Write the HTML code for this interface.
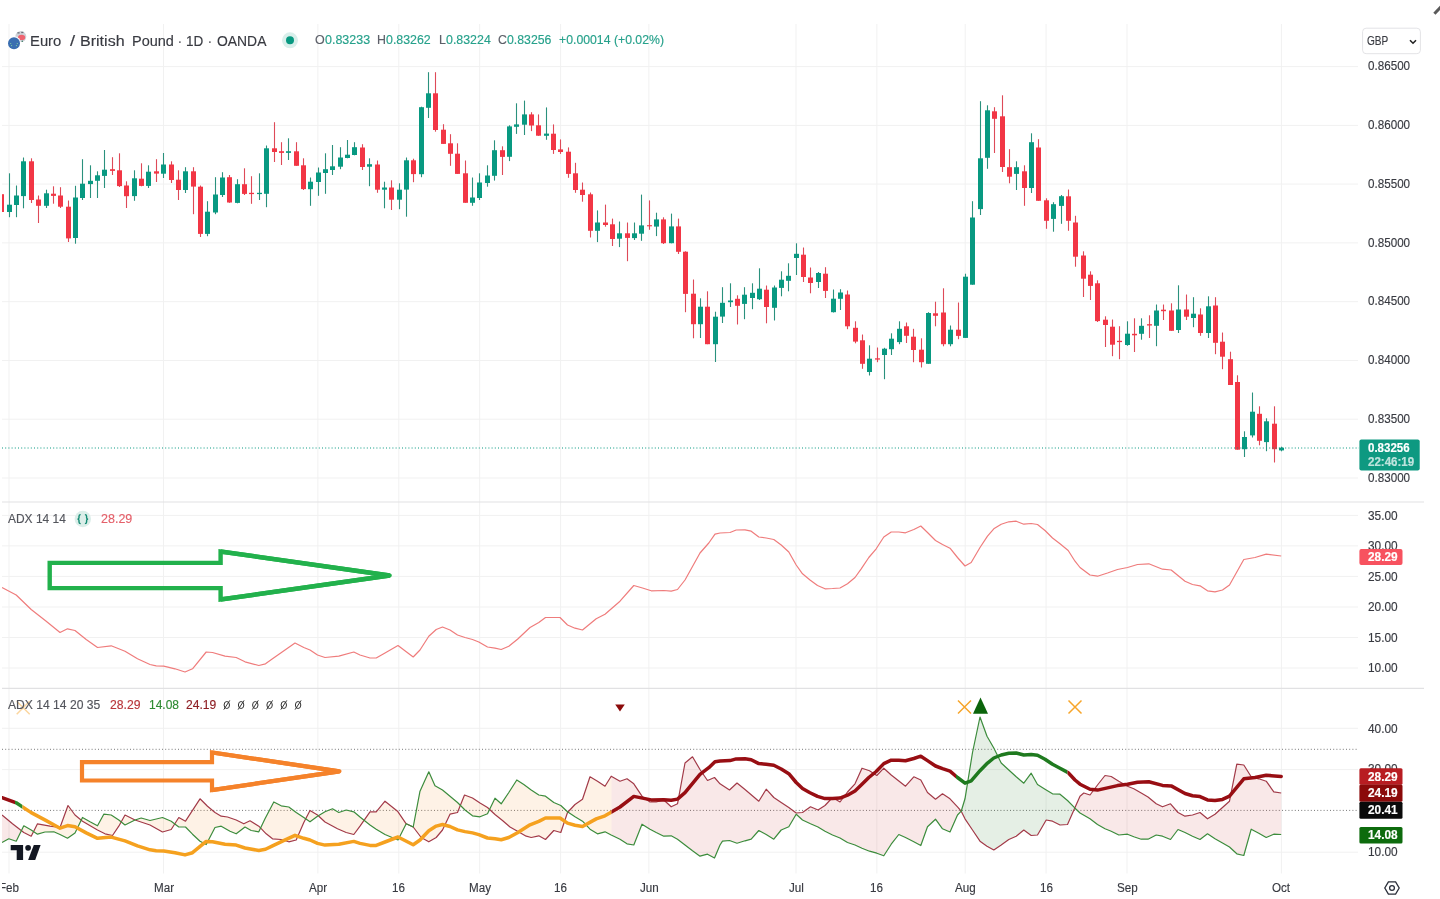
<!DOCTYPE html>
<html><head><meta charset="utf-8"><title>EURGBP chart</title>
<style>
html,body{margin:0;padding:0;background:#fff;}
body{width:1440px;height:899px;overflow:hidden;position:relative;font-family:"Liberation Sans",sans-serif;}
#c{position:absolute;left:0;top:0;width:1440px;height:899px;overflow:hidden;filter:blur(0.4px);}
svg{position:absolute;left:0;top:0;}
.t{position:absolute;white-space:nowrap;transform-origin:0 50%;-webkit-text-stroke:0.15px currentColor;}
</style></head><body><div id="c">
<div id="under">
<div class="t" style="left:1367.50px;top:539.04px;font-size:12px;line-height:14.40px;color:#383a41;transform:scaleX(0.9887);">30.00</div>
<div class="t" style="left:1367.50px;top:762.44px;font-size:12px;line-height:14.40px;color:#383a41;transform:scaleX(0.9887);">30.00</div>
</div>
<svg width="1440" height="899" viewBox="0 0 1440 899">
<line x1="9.0" y1="24" x2="9.0" y2="873.5" stroke="#f1f1f1" stroke-width="1"/>
<line x1="163.5" y1="24" x2="163.5" y2="873.5" stroke="#f1f1f1" stroke-width="1"/>
<line x1="317.9" y1="24" x2="317.9" y2="873.5" stroke="#f1f1f1" stroke-width="1"/>
<line x1="398.8" y1="24" x2="398.8" y2="873.5" stroke="#f1f1f1" stroke-width="1"/>
<line x1="479.7" y1="24" x2="479.7" y2="873.5" stroke="#f1f1f1" stroke-width="1"/>
<line x1="560.6" y1="24" x2="560.6" y2="873.5" stroke="#f1f1f1" stroke-width="1"/>
<line x1="648.9" y1="24" x2="648.9" y2="873.5" stroke="#f1f1f1" stroke-width="1"/>
<line x1="796.0" y1="24" x2="796.0" y2="873.5" stroke="#f1f1f1" stroke-width="1"/>
<line x1="876.9" y1="24" x2="876.9" y2="873.5" stroke="#f1f1f1" stroke-width="1"/>
<line x1="965.2" y1="24" x2="965.2" y2="873.5" stroke="#f1f1f1" stroke-width="1"/>
<line x1="1046.1" y1="24" x2="1046.1" y2="873.5" stroke="#f1f1f1" stroke-width="1"/>
<line x1="1127.0" y1="24" x2="1127.0" y2="873.5" stroke="#f1f1f1" stroke-width="1"/>
<line x1="1281.4" y1="24" x2="1281.4" y2="873.5" stroke="#f1f1f1" stroke-width="1"/>
<line x1="2" y1="478.0" x2="1358" y2="478.0" stroke="#f1f1f1" stroke-width="1"/>
<line x1="2" y1="419.2" x2="1358" y2="419.2" stroke="#f1f1f1" stroke-width="1"/>
<line x1="2" y1="360.5" x2="1358" y2="360.5" stroke="#f1f1f1" stroke-width="1"/>
<line x1="2" y1="301.7" x2="1358" y2="301.7" stroke="#f1f1f1" stroke-width="1"/>
<line x1="2" y1="242.9" x2="1358" y2="242.9" stroke="#f1f1f1" stroke-width="1"/>
<line x1="2" y1="184.1" x2="1358" y2="184.1" stroke="#f1f1f1" stroke-width="1"/>
<line x1="2" y1="125.4" x2="1358" y2="125.4" stroke="#f1f1f1" stroke-width="1"/>
<line x1="2" y1="66.6" x2="1358" y2="66.6" stroke="#f1f1f1" stroke-width="1"/>
<line x1="2" y1="668.0" x2="1358" y2="668.0" stroke="#f1f1f1" stroke-width="1"/>
<line x1="2" y1="637.5" x2="1358" y2="637.5" stroke="#f1f1f1" stroke-width="1"/>
<line x1="2" y1="607.0" x2="1358" y2="607.0" stroke="#f1f1f1" stroke-width="1"/>
<line x1="2" y1="576.4" x2="1358" y2="576.4" stroke="#f1f1f1" stroke-width="1"/>
<line x1="2" y1="545.9" x2="1358" y2="545.9" stroke="#f1f1f1" stroke-width="1"/>
<line x1="2" y1="515.4" x2="1358" y2="515.4" stroke="#f1f1f1" stroke-width="1"/>
<line x1="2" y1="852.2" x2="1358" y2="852.2" stroke="#f1f1f1" stroke-width="1"/>
<line x1="2" y1="769.6" x2="1358" y2="769.6" stroke="#f1f1f1" stroke-width="1"/>
<line x1="2" y1="728.3" x2="1358" y2="728.3" stroke="#f1f1f1" stroke-width="1"/>
<line x1="2" y1="502" x2="1424" y2="502" stroke="#e1e1e3" stroke-width="1.2"/>
<line x1="2" y1="688.3" x2="1424" y2="688.3" stroke="#e1e1e3" stroke-width="1.2"/>
<line x1="1.50" y1="194.2" x2="1.50" y2="212.0" stroke="#de4a58" stroke-width="1.1"/>
<rect x="-1.00" y="194.2" width="5" height="17.8" fill="#f23645"/>
<line x1="9.50" y1="173.3" x2="9.50" y2="217.2" stroke="#2a917d" stroke-width="1.1"/>
<rect x="7.00" y="204.7" width="5" height="7.3" fill="#089981"/>
<line x1="16.50" y1="185.5" x2="16.50" y2="217.2" stroke="#2a917d" stroke-width="1.1"/>
<rect x="14.00" y="195.5" width="5" height="9.5" fill="#089981"/>
<line x1="23.50" y1="157.5" x2="23.50" y2="208.3" stroke="#2a917d" stroke-width="1.1"/>
<rect x="21.00" y="161.3" width="5" height="34.8" fill="#089981"/>
<line x1="31.50" y1="158.3" x2="31.50" y2="203.0" stroke="#de4a58" stroke-width="1.1"/>
<rect x="29.00" y="161.3" width="5" height="38.7" fill="#f23645"/>
<line x1="38.50" y1="195.5" x2="38.50" y2="223.0" stroke="#de4a58" stroke-width="1.1"/>
<rect x="36.00" y="199.5" width="5" height="6.3" fill="#f23645"/>
<line x1="46.50" y1="189.7" x2="46.50" y2="208.0" stroke="#2a917d" stroke-width="1.1"/>
<rect x="44.00" y="193.3" width="5" height="12.5" fill="#089981"/>
<line x1="53.50" y1="186.3" x2="53.50" y2="203.7" stroke="#de4a58" stroke-width="1.1"/>
<rect x="51.00" y="193.7" width="5" height="2.2" fill="#f23645"/>
<line x1="60.50" y1="187.2" x2="60.50" y2="208.0" stroke="#de4a58" stroke-width="1.1"/>
<rect x="58.00" y="195.5" width="5" height="11.2" fill="#f23645"/>
<line x1="68.50" y1="200.5" x2="68.50" y2="242.0" stroke="#de4a58" stroke-width="1.1"/>
<rect x="66.00" y="206.7" width="5" height="31.7" fill="#f23645"/>
<line x1="75.50" y1="185.8" x2="75.50" y2="243.7" stroke="#2a917d" stroke-width="1.1"/>
<rect x="73.00" y="197.5" width="5" height="40.5" fill="#089981"/>
<line x1="82.50" y1="159.2" x2="82.50" y2="200.0" stroke="#2a917d" stroke-width="1.1"/>
<rect x="80.00" y="183.7" width="5" height="14.3" fill="#089981"/>
<line x1="90.50" y1="165.3" x2="90.50" y2="198.0" stroke="#2a917d" stroke-width="1.1"/>
<rect x="88.00" y="180.8" width="5" height="3.3" fill="#089981"/>
<line x1="97.50" y1="171.3" x2="97.50" y2="198.0" stroke="#2a917d" stroke-width="1.1"/>
<rect x="95.00" y="175.3" width="5" height="5.5" fill="#089981"/>
<line x1="104.50" y1="150.0" x2="104.50" y2="188.0" stroke="#2a917d" stroke-width="1.1"/>
<rect x="102.00" y="169.7" width="5" height="6.2" fill="#089981"/>
<line x1="112.50" y1="157.2" x2="112.50" y2="175.0" stroke="#de4a58" stroke-width="1.1"/>
<rect x="110.00" y="169.2" width="5" height="1.7" fill="#f23645"/>
<line x1="119.50" y1="153.3" x2="119.50" y2="187.0" stroke="#de4a58" stroke-width="1.1"/>
<rect x="117.00" y="170.3" width="5" height="15.8" fill="#f23645"/>
<line x1="126.50" y1="181.3" x2="126.50" y2="208.0" stroke="#de4a58" stroke-width="1.1"/>
<rect x="124.00" y="185.5" width="5" height="10.7" fill="#f23645"/>
<line x1="134.50" y1="170.3" x2="134.50" y2="200.8" stroke="#2a917d" stroke-width="1.1"/>
<rect x="132.00" y="178.3" width="5" height="17.8" fill="#089981"/>
<line x1="141.50" y1="163.3" x2="141.50" y2="186.3" stroke="#de4a58" stroke-width="1.1"/>
<rect x="139.00" y="178.7" width="5" height="7.2" fill="#f23645"/>
<line x1="148.50" y1="165.3" x2="148.50" y2="188.0" stroke="#2a917d" stroke-width="1.1"/>
<rect x="146.00" y="171.7" width="5" height="14.2" fill="#089981"/>
<line x1="156.50" y1="159.2" x2="156.50" y2="182.0" stroke="#de4a58" stroke-width="1.1"/>
<rect x="154.00" y="171.3" width="5" height="2.3" fill="#f23645"/>
<line x1="163.50" y1="153.0" x2="163.50" y2="178.0" stroke="#2a917d" stroke-width="1.1"/>
<rect x="161.00" y="164.5" width="5" height="9.2" fill="#089981"/>
<line x1="171.50" y1="161.3" x2="171.50" y2="183.0" stroke="#de4a58" stroke-width="1.1"/>
<rect x="169.00" y="164.5" width="5" height="15.5" fill="#f23645"/>
<line x1="178.50" y1="170.3" x2="178.50" y2="200.0" stroke="#de4a58" stroke-width="1.1"/>
<rect x="176.00" y="179.7" width="5" height="10.3" fill="#f23645"/>
<line x1="185.50" y1="167.2" x2="185.50" y2="193.0" stroke="#2a917d" stroke-width="1.1"/>
<rect x="183.00" y="171.3" width="5" height="18.7" fill="#089981"/>
<line x1="193.50" y1="167.2" x2="193.50" y2="214.2" stroke="#de4a58" stroke-width="1.1"/>
<rect x="191.00" y="171.3" width="5" height="15.3" fill="#f23645"/>
<line x1="200.50" y1="185.5" x2="200.50" y2="237.0" stroke="#de4a58" stroke-width="1.1"/>
<rect x="198.00" y="186.7" width="5" height="47.2" fill="#f23645"/>
<line x1="207.50" y1="201.2" x2="207.50" y2="236.2" stroke="#2a917d" stroke-width="1.1"/>
<rect x="205.00" y="211.7" width="5" height="22.2" fill="#089981"/>
<line x1="215.50" y1="177.2" x2="215.50" y2="214.2" stroke="#2a917d" stroke-width="1.1"/>
<rect x="213.00" y="194.5" width="5" height="18.0" fill="#089981"/>
<line x1="222.50" y1="172.2" x2="222.50" y2="197.0" stroke="#2a917d" stroke-width="1.1"/>
<rect x="220.00" y="177.5" width="5" height="17.5" fill="#089981"/>
<line x1="229.50" y1="175.0" x2="229.50" y2="202.8" stroke="#de4a58" stroke-width="1.1"/>
<rect x="227.00" y="177.2" width="5" height="25.3" fill="#f23645"/>
<line x1="237.50" y1="179.2" x2="237.50" y2="203.3" stroke="#2a917d" stroke-width="1.1"/>
<rect x="235.00" y="184.2" width="5" height="18.7" fill="#089981"/>
<line x1="244.50" y1="168.3" x2="244.50" y2="195.0" stroke="#de4a58" stroke-width="1.1"/>
<rect x="242.00" y="184.2" width="5" height="9.7" fill="#f23645"/>
<line x1="251.50" y1="176.2" x2="251.50" y2="203.8" stroke="#de4a58" stroke-width="1.1"/>
<rect x="249.00" y="192.8" width="5" height="1.3" fill="#f23645"/>
<line x1="259.50" y1="173.3" x2="259.50" y2="200.0" stroke="#2a917d" stroke-width="1.1"/>
<rect x="257.00" y="192.8" width="5" height="1.3" fill="#089981"/>
<line x1="266.50" y1="145.5" x2="266.50" y2="207.2" stroke="#2a917d" stroke-width="1.1"/>
<rect x="264.00" y="148.3" width="5" height="45.5" fill="#089981"/>
<line x1="274.50" y1="122.2" x2="274.50" y2="162.0" stroke="#de4a58" stroke-width="1.1"/>
<rect x="272.00" y="148.3" width="5" height="3.7" fill="#f23645"/>
<line x1="281.50" y1="142.2" x2="281.50" y2="165.0" stroke="#de4a58" stroke-width="1.1"/>
<rect x="279.00" y="151.2" width="5" height="1.7" fill="#f23645"/>
<line x1="288.50" y1="138.3" x2="288.50" y2="160.0" stroke="#2a917d" stroke-width="1.1"/>
<rect x="286.00" y="151.2" width="5" height="1.7" fill="#089981"/>
<line x1="296.50" y1="142.2" x2="296.50" y2="165.8" stroke="#de4a58" stroke-width="1.1"/>
<rect x="294.00" y="151.3" width="5" height="14.5" fill="#f23645"/>
<line x1="303.50" y1="158.3" x2="303.50" y2="190.0" stroke="#de4a58" stroke-width="1.1"/>
<rect x="301.00" y="165.3" width="5" height="23.8" fill="#f23645"/>
<line x1="310.50" y1="177.5" x2="310.50" y2="205.8" stroke="#2a917d" stroke-width="1.1"/>
<rect x="308.00" y="181.7" width="5" height="7.5" fill="#089981"/>
<line x1="318.50" y1="167.5" x2="318.50" y2="195.8" stroke="#2a917d" stroke-width="1.1"/>
<rect x="316.00" y="172.5" width="5" height="9.5" fill="#089981"/>
<line x1="325.50" y1="153.3" x2="325.50" y2="193.8" stroke="#2a917d" stroke-width="1.1"/>
<rect x="323.00" y="169.2" width="5" height="3.8" fill="#089981"/>
<line x1="332.50" y1="145.0" x2="332.50" y2="175.0" stroke="#2a917d" stroke-width="1.1"/>
<rect x="330.00" y="166.3" width="5" height="3.7" fill="#089981"/>
<line x1="340.50" y1="147.2" x2="340.50" y2="169.2" stroke="#2a917d" stroke-width="1.1"/>
<rect x="338.00" y="157.5" width="5" height="9.2" fill="#089981"/>
<line x1="347.50" y1="140.0" x2="347.50" y2="158.3" stroke="#2a917d" stroke-width="1.1"/>
<rect x="345.00" y="154.7" width="5" height="3.3" fill="#089981"/>
<line x1="354.50" y1="142.2" x2="354.50" y2="155.3" stroke="#2a917d" stroke-width="1.1"/>
<rect x="352.00" y="147.2" width="5" height="7.8" fill="#089981"/>
<line x1="362.50" y1="144.2" x2="362.50" y2="170.0" stroke="#de4a58" stroke-width="1.1"/>
<rect x="360.00" y="147.5" width="5" height="19.5" fill="#f23645"/>
<line x1="369.50" y1="158.3" x2="369.50" y2="186.2" stroke="#2a917d" stroke-width="1.1"/>
<rect x="367.00" y="164.2" width="5" height="2.5" fill="#089981"/>
<line x1="377.50" y1="160.5" x2="377.50" y2="192.8" stroke="#de4a58" stroke-width="1.1"/>
<rect x="375.00" y="164.5" width="5" height="25.2" fill="#f23645"/>
<line x1="384.50" y1="181.7" x2="384.50" y2="208.3" stroke="#2a917d" stroke-width="1.1"/>
<rect x="382.00" y="187.5" width="5" height="2.2" fill="#089981"/>
<line x1="391.50" y1="180.3" x2="391.50" y2="210.0" stroke="#de4a58" stroke-width="1.1"/>
<rect x="389.00" y="187.5" width="5" height="12.2" fill="#f23645"/>
<line x1="399.50" y1="183.3" x2="399.50" y2="209.2" stroke="#2a917d" stroke-width="1.1"/>
<rect x="397.00" y="189.7" width="5" height="10.0" fill="#089981"/>
<line x1="406.50" y1="157.5" x2="406.50" y2="216.7" stroke="#2a917d" stroke-width="1.1"/>
<rect x="404.00" y="160.3" width="5" height="29.3" fill="#089981"/>
<line x1="413.50" y1="158.7" x2="413.50" y2="182.2" stroke="#de4a58" stroke-width="1.1"/>
<rect x="411.00" y="160.3" width="5" height="13.8" fill="#f23645"/>
<line x1="421.50" y1="106.7" x2="421.50" y2="177.2" stroke="#2a917d" stroke-width="1.1"/>
<rect x="419.00" y="107.2" width="5" height="67.0" fill="#089981"/>
<line x1="428.50" y1="72.2" x2="428.50" y2="118.0" stroke="#2a917d" stroke-width="1.1"/>
<rect x="426.00" y="93.3" width="5" height="14.5" fill="#089981"/>
<line x1="435.50" y1="72.2" x2="435.50" y2="131.7" stroke="#de4a58" stroke-width="1.1"/>
<rect x="433.00" y="93.3" width="5" height="36.7" fill="#f23645"/>
<line x1="443.50" y1="124.2" x2="443.50" y2="143.8" stroke="#de4a58" stroke-width="1.1"/>
<rect x="441.00" y="129.7" width="5" height="14.2" fill="#f23645"/>
<line x1="450.50" y1="134.2" x2="450.50" y2="165.8" stroke="#de4a58" stroke-width="1.1"/>
<rect x="448.00" y="143.3" width="5" height="10.5" fill="#f23645"/>
<line x1="457.50" y1="143.3" x2="457.50" y2="173.8" stroke="#de4a58" stroke-width="1.1"/>
<rect x="455.00" y="153.7" width="5" height="20.2" fill="#f23645"/>
<line x1="465.50" y1="160.5" x2="465.50" y2="202.8" stroke="#de4a58" stroke-width="1.1"/>
<rect x="463.00" y="173.3" width="5" height="29.5" fill="#f23645"/>
<line x1="472.50" y1="177.5" x2="472.50" y2="205.8" stroke="#2a917d" stroke-width="1.1"/>
<rect x="470.00" y="197.5" width="5" height="5.3" fill="#089981"/>
<line x1="479.50" y1="173.3" x2="479.50" y2="200.0" stroke="#2a917d" stroke-width="1.1"/>
<rect x="477.00" y="182.5" width="5" height="15.5" fill="#089981"/>
<line x1="487.50" y1="165.3" x2="487.50" y2="186.7" stroke="#2a917d" stroke-width="1.1"/>
<rect x="485.00" y="175.5" width="5" height="7.5" fill="#089981"/>
<line x1="494.50" y1="140.3" x2="494.50" y2="180.6" stroke="#2a917d" stroke-width="1.1"/>
<rect x="492.00" y="150.2" width="5" height="25.6" fill="#089981"/>
<line x1="502.50" y1="146.3" x2="502.50" y2="175.0" stroke="#de4a58" stroke-width="1.1"/>
<rect x="500.00" y="150.2" width="5" height="6.7" fill="#f23645"/>
<line x1="509.50" y1="125.3" x2="509.50" y2="161.1" stroke="#2a917d" stroke-width="1.1"/>
<rect x="507.00" y="126.4" width="5" height="30.4" fill="#089981"/>
<line x1="516.50" y1="103.3" x2="516.50" y2="133.9" stroke="#2a917d" stroke-width="1.1"/>
<rect x="514.00" y="124.4" width="5" height="2.4" fill="#089981"/>
<line x1="524.50" y1="100.6" x2="524.50" y2="135.0" stroke="#2a917d" stroke-width="1.1"/>
<rect x="522.00" y="114.4" width="5" height="10.3" fill="#089981"/>
<line x1="531.50" y1="112.2" x2="531.50" y2="131.1" stroke="#de4a58" stroke-width="1.1"/>
<rect x="529.00" y="114.4" width="5" height="11.1" fill="#f23645"/>
<line x1="538.50" y1="114.4" x2="538.50" y2="135.8" stroke="#de4a58" stroke-width="1.1"/>
<rect x="536.00" y="125.3" width="5" height="10.4" fill="#f23645"/>
<line x1="546.50" y1="107.4" x2="546.50" y2="139.8" stroke="#2a917d" stroke-width="1.1"/>
<rect x="544.00" y="133.6" width="5" height="2.2" fill="#089981"/>
<line x1="553.50" y1="124.4" x2="553.50" y2="153.9" stroke="#de4a58" stroke-width="1.1"/>
<rect x="551.00" y="133.7" width="5" height="16.3" fill="#f23645"/>
<line x1="560.50" y1="139.4" x2="560.50" y2="153.9" stroke="#de4a58" stroke-width="1.1"/>
<rect x="558.00" y="149.4" width="5" height="2.6" fill="#f23645"/>
<line x1="568.50" y1="147.4" x2="568.50" y2="177.8" stroke="#de4a58" stroke-width="1.1"/>
<rect x="566.00" y="151.7" width="5" height="22.2" fill="#f23645"/>
<line x1="575.50" y1="162.8" x2="575.50" y2="192.8" stroke="#de4a58" stroke-width="1.1"/>
<rect x="573.00" y="173.3" width="5" height="16.7" fill="#f23645"/>
<line x1="582.50" y1="182.5" x2="582.50" y2="201.7" stroke="#de4a58" stroke-width="1.1"/>
<rect x="580.00" y="189.7" width="5" height="5.3" fill="#f23645"/>
<line x1="590.50" y1="192.5" x2="590.50" y2="237.5" stroke="#de4a58" stroke-width="1.1"/>
<rect x="588.00" y="194.3" width="5" height="36.5" fill="#f23645"/>
<line x1="597.50" y1="210.4" x2="597.50" y2="242.1" stroke="#2a917d" stroke-width="1.1"/>
<rect x="595.00" y="222.5" width="5" height="8.3" fill="#089981"/>
<line x1="605.50" y1="204.6" x2="605.50" y2="226.7" stroke="#de4a58" stroke-width="1.1"/>
<rect x="603.00" y="222.5" width="5" height="2.5" fill="#f23645"/>
<line x1="612.50" y1="218.6" x2="612.50" y2="246.0" stroke="#de4a58" stroke-width="1.1"/>
<rect x="610.00" y="224.3" width="5" height="14.7" fill="#f23645"/>
<line x1="619.50" y1="221.5" x2="619.50" y2="247.1" stroke="#2a917d" stroke-width="1.1"/>
<rect x="617.00" y="233.3" width="5" height="5.4" fill="#089981"/>
<line x1="627.50" y1="222.5" x2="627.50" y2="261.2" stroke="#de4a58" stroke-width="1.1"/>
<rect x="625.00" y="233.3" width="5" height="4.6" fill="#f23645"/>
<line x1="634.50" y1="222.5" x2="634.50" y2="240.0" stroke="#2a917d" stroke-width="1.1"/>
<rect x="632.00" y="233.3" width="5" height="4.8" fill="#089981"/>
<line x1="641.50" y1="194.6" x2="641.50" y2="240.8" stroke="#2a917d" stroke-width="1.1"/>
<rect x="639.00" y="225.4" width="5" height="8.3" fill="#089981"/>
<line x1="649.50" y1="200.4" x2="649.50" y2="229.8" stroke="#de4a58" stroke-width="1.1"/>
<rect x="647.00" y="225.2" width="5" height="1.1" fill="#f23645"/>
<line x1="656.50" y1="212.7" x2="656.50" y2="236.1" stroke="#2a917d" stroke-width="1.1"/>
<rect x="654.00" y="219.4" width="5" height="7.2" fill="#089981"/>
<line x1="663.50" y1="217.3" x2="663.50" y2="244.0" stroke="#de4a58" stroke-width="1.1"/>
<rect x="661.00" y="219.4" width="5" height="23.8" fill="#f23645"/>
<line x1="671.50" y1="213.6" x2="671.50" y2="243.3" stroke="#2a917d" stroke-width="1.1"/>
<rect x="669.00" y="226.4" width="5" height="16.8" fill="#089981"/>
<line x1="678.50" y1="218.6" x2="678.50" y2="254.0" stroke="#de4a58" stroke-width="1.1"/>
<rect x="676.00" y="226.4" width="5" height="25.4" fill="#f23645"/>
<line x1="685.50" y1="251.3" x2="685.50" y2="312.2" stroke="#de4a58" stroke-width="1.1"/>
<rect x="683.00" y="251.7" width="5" height="42.2" fill="#f23645"/>
<line x1="693.50" y1="279.5" x2="693.50" y2="338.3" stroke="#de4a58" stroke-width="1.1"/>
<rect x="691.00" y="293.7" width="5" height="30.5" fill="#f23645"/>
<line x1="700.50" y1="298.3" x2="700.50" y2="338.0" stroke="#2a917d" stroke-width="1.1"/>
<rect x="698.00" y="306.7" width="5" height="17.5" fill="#089981"/>
<line x1="707.50" y1="291.3" x2="707.50" y2="344.2" stroke="#de4a58" stroke-width="1.1"/>
<rect x="705.00" y="306.7" width="5" height="37.5" fill="#f23645"/>
<line x1="715.50" y1="311.7" x2="715.50" y2="362.0" stroke="#2a917d" stroke-width="1.1"/>
<rect x="713.00" y="316.7" width="5" height="27.5" fill="#089981"/>
<line x1="722.50" y1="287.2" x2="722.50" y2="323.0" stroke="#2a917d" stroke-width="1.1"/>
<rect x="720.00" y="302.8" width="5" height="13.8" fill="#089981"/>
<line x1="730.50" y1="283.3" x2="730.50" y2="307.0" stroke="#2a917d" stroke-width="1.1"/>
<rect x="728.00" y="300.5" width="5" height="1.7" fill="#089981"/>
<line x1="737.50" y1="295.3" x2="737.50" y2="324.5" stroke="#de4a58" stroke-width="1.1"/>
<rect x="735.00" y="298.8" width="5" height="7.0" fill="#f23645"/>
<line x1="744.50" y1="287.2" x2="744.50" y2="319.2" stroke="#2a917d" stroke-width="1.1"/>
<rect x="742.00" y="294.7" width="5" height="9.2" fill="#089981"/>
<line x1="752.50" y1="283.3" x2="752.50" y2="309.2" stroke="#2a917d" stroke-width="1.1"/>
<rect x="750.00" y="292.8" width="5" height="5.2" fill="#089981"/>
<line x1="759.50" y1="268.3" x2="759.50" y2="300.0" stroke="#2a917d" stroke-width="1.1"/>
<rect x="757.00" y="288.7" width="5" height="10.5" fill="#089981"/>
<line x1="766.50" y1="285.5" x2="766.50" y2="323.3" stroke="#de4a58" stroke-width="1.1"/>
<rect x="764.00" y="289.7" width="5" height="17.3" fill="#f23645"/>
<line x1="774.50" y1="285.5" x2="774.50" y2="320.5" stroke="#2a917d" stroke-width="1.1"/>
<rect x="772.00" y="287.5" width="5" height="20.3" fill="#089981"/>
<line x1="781.50" y1="271.3" x2="781.50" y2="296.3" stroke="#2a917d" stroke-width="1.1"/>
<rect x="779.00" y="279.7" width="5" height="8.2" fill="#089981"/>
<line x1="788.50" y1="263.3" x2="788.50" y2="291.3" stroke="#2a917d" stroke-width="1.1"/>
<rect x="786.00" y="275.8" width="5" height="5.0" fill="#089981"/>
<line x1="796.50" y1="243.3" x2="796.50" y2="275.0" stroke="#2a917d" stroke-width="1.1"/>
<rect x="794.00" y="253.8" width="5" height="4.2" fill="#089981"/>
<line x1="803.50" y1="247.5" x2="803.50" y2="282.0" stroke="#de4a58" stroke-width="1.1"/>
<rect x="801.00" y="254.7" width="5" height="22.3" fill="#f23645"/>
<line x1="810.50" y1="267.5" x2="810.50" y2="293.3" stroke="#de4a58" stroke-width="1.1"/>
<rect x="808.00" y="277.5" width="5" height="5.5" fill="#f23645"/>
<line x1="818.50" y1="272.0" x2="818.50" y2="288.0" stroke="#2a917d" stroke-width="1.1"/>
<rect x="816.00" y="273.0" width="5" height="9.0" fill="#089981"/>
<line x1="825.50" y1="267.2" x2="825.50" y2="298.0" stroke="#de4a58" stroke-width="1.1"/>
<rect x="823.00" y="273.7" width="5" height="17.2" fill="#f23645"/>
<line x1="833.50" y1="289.5" x2="833.50" y2="312.5" stroke="#2a917d" stroke-width="1.1"/>
<rect x="831.00" y="298.7" width="5" height="13.5" fill="#089981"/>
<line x1="840.50" y1="289.2" x2="840.50" y2="310.0" stroke="#2a917d" stroke-width="1.1"/>
<rect x="838.00" y="292.5" width="5" height="6.3" fill="#089981"/>
<line x1="847.50" y1="290.5" x2="847.50" y2="329.2" stroke="#de4a58" stroke-width="1.1"/>
<rect x="845.00" y="294.5" width="5" height="31.8" fill="#f23645"/>
<line x1="855.50" y1="321.3" x2="855.50" y2="343.3" stroke="#de4a58" stroke-width="1.1"/>
<rect x="853.00" y="327.8" width="5" height="13.8" fill="#f23645"/>
<line x1="862.50" y1="334.5" x2="862.50" y2="368.8" stroke="#de4a58" stroke-width="1.1"/>
<rect x="860.00" y="340.3" width="5" height="23.5" fill="#f23645"/>
<line x1="869.50" y1="345.3" x2="869.50" y2="375.5" stroke="#2a917d" stroke-width="1.1"/>
<rect x="867.00" y="358.7" width="5" height="13.3" fill="#089981"/>
<line x1="877.50" y1="347.5" x2="877.50" y2="362.2" stroke="#de4a58" stroke-width="1.1"/>
<rect x="875.00" y="358.3" width="5" height="1.3" fill="#f23645"/>
<line x1="884.50" y1="347.8" x2="884.50" y2="379.2" stroke="#2a917d" stroke-width="1.1"/>
<rect x="882.00" y="348.7" width="5" height="6.3" fill="#089981"/>
<line x1="891.50" y1="333.3" x2="891.50" y2="355.0" stroke="#2a917d" stroke-width="1.1"/>
<rect x="889.00" y="338.7" width="5" height="10.5" fill="#089981"/>
<line x1="899.50" y1="321.3" x2="899.50" y2="344.2" stroke="#2a917d" stroke-width="1.1"/>
<rect x="897.00" y="328.8" width="5" height="13.3" fill="#089981"/>
<line x1="906.50" y1="322.5" x2="906.50" y2="343.0" stroke="#de4a58" stroke-width="1.1"/>
<rect x="904.00" y="326.3" width="5" height="9.5" fill="#f23645"/>
<line x1="913.50" y1="328.8" x2="913.50" y2="362.2" stroke="#de4a58" stroke-width="1.1"/>
<rect x="911.00" y="336.7" width="5" height="13.3" fill="#f23645"/>
<line x1="921.50" y1="338.3" x2="921.50" y2="367.5" stroke="#de4a58" stroke-width="1.1"/>
<rect x="919.00" y="349.7" width="5" height="12.5" fill="#f23645"/>
<line x1="928.50" y1="312.2" x2="928.50" y2="363.8" stroke="#2a917d" stroke-width="1.1"/>
<rect x="926.00" y="313.0" width="5" height="50.8" fill="#089981"/>
<line x1="935.50" y1="301.7" x2="935.50" y2="326.3" stroke="#de4a58" stroke-width="1.1"/>
<rect x="933.00" y="313.3" width="5" height="2.5" fill="#f23645"/>
<line x1="943.50" y1="288.3" x2="943.50" y2="346.3" stroke="#de4a58" stroke-width="1.1"/>
<rect x="941.00" y="312.5" width="5" height="31.7" fill="#f23645"/>
<line x1="950.50" y1="325.5" x2="950.50" y2="346.3" stroke="#2a917d" stroke-width="1.1"/>
<rect x="948.00" y="329.7" width="5" height="14.5" fill="#089981"/>
<line x1="958.50" y1="302.5" x2="958.50" y2="339.2" stroke="#de4a58" stroke-width="1.1"/>
<rect x="956.00" y="329.7" width="5" height="6.2" fill="#f23645"/>
<line x1="965.50" y1="273.7" x2="965.50" y2="337.8" stroke="#2a917d" stroke-width="1.1"/>
<rect x="963.00" y="276.7" width="5" height="61.2" fill="#089981"/>
<line x1="972.50" y1="201.2" x2="972.50" y2="284.7" stroke="#2a917d" stroke-width="1.1"/>
<rect x="970.00" y="217.5" width="5" height="67.2" fill="#089981"/>
<line x1="980.50" y1="101.2" x2="980.50" y2="215.0" stroke="#2a917d" stroke-width="1.1"/>
<rect x="978.00" y="158.3" width="5" height="50.8" fill="#089981"/>
<line x1="987.50" y1="105.3" x2="987.50" y2="168.8" stroke="#2a917d" stroke-width="1.1"/>
<rect x="985.00" y="110.3" width="5" height="47.5" fill="#089981"/>
<line x1="994.50" y1="107.2" x2="994.50" y2="153.0" stroke="#de4a58" stroke-width="1.1"/>
<rect x="992.00" y="111.3" width="5" height="7.5" fill="#f23645"/>
<line x1="1002.50" y1="95.3" x2="1002.50" y2="172.0" stroke="#de4a58" stroke-width="1.1"/>
<rect x="1000.00" y="116.3" width="5" height="50.7" fill="#f23645"/>
<line x1="1009.50" y1="149.2" x2="1009.50" y2="183.3" stroke="#de4a58" stroke-width="1.1"/>
<rect x="1007.00" y="167.2" width="5" height="9.5" fill="#f23645"/>
<line x1="1016.50" y1="161.3" x2="1016.50" y2="190.0" stroke="#2a917d" stroke-width="1.1"/>
<rect x="1014.00" y="167.2" width="5" height="6.7" fill="#089981"/>
<line x1="1024.50" y1="165.3" x2="1024.50" y2="205.8" stroke="#de4a58" stroke-width="1.1"/>
<rect x="1022.00" y="171.3" width="5" height="16.7" fill="#f23645"/>
<line x1="1031.50" y1="133.3" x2="1031.50" y2="193.0" stroke="#2a917d" stroke-width="1.1"/>
<rect x="1029.00" y="142.2" width="5" height="45.8" fill="#089981"/>
<line x1="1038.50" y1="139.2" x2="1038.50" y2="200.8" stroke="#de4a58" stroke-width="1.1"/>
<rect x="1036.00" y="147.5" width="5" height="53.3" fill="#f23645"/>
<line x1="1046.50" y1="198.3" x2="1046.50" y2="228.8" stroke="#de4a58" stroke-width="1.1"/>
<rect x="1044.00" y="200.3" width="5" height="20.5" fill="#f23645"/>
<line x1="1053.50" y1="202.2" x2="1053.50" y2="231.7" stroke="#2a917d" stroke-width="1.1"/>
<rect x="1051.00" y="204.2" width="5" height="14.7" fill="#089981"/>
<line x1="1061.50" y1="195.0" x2="1061.50" y2="223.8" stroke="#2a917d" stroke-width="1.1"/>
<rect x="1059.00" y="196.2" width="5" height="9.7" fill="#089981"/>
<line x1="1068.50" y1="189.5" x2="1068.50" y2="230.8" stroke="#de4a58" stroke-width="1.1"/>
<rect x="1066.00" y="196.3" width="5" height="24.5" fill="#f23645"/>
<line x1="1075.50" y1="215.8" x2="1075.50" y2="266.7" stroke="#de4a58" stroke-width="1.1"/>
<rect x="1073.00" y="222.5" width="5" height="34.2" fill="#f23645"/>
<line x1="1083.50" y1="251.3" x2="1083.50" y2="297.0" stroke="#de4a58" stroke-width="1.1"/>
<rect x="1081.00" y="255.5" width="5" height="23.2" fill="#f23645"/>
<line x1="1090.50" y1="271.3" x2="1090.50" y2="300.0" stroke="#de4a58" stroke-width="1.1"/>
<rect x="1088.00" y="274.7" width="5" height="11.2" fill="#f23645"/>
<line x1="1097.50" y1="280.3" x2="1097.50" y2="322.0" stroke="#de4a58" stroke-width="1.1"/>
<rect x="1095.00" y="283.3" width="5" height="37.8" fill="#f23645"/>
<line x1="1105.50" y1="316.3" x2="1105.50" y2="347.0" stroke="#de4a58" stroke-width="1.1"/>
<rect x="1103.00" y="319.7" width="5" height="5.3" fill="#f23645"/>
<line x1="1112.50" y1="319.5" x2="1112.50" y2="356.2" stroke="#de4a58" stroke-width="1.1"/>
<rect x="1110.00" y="326.7" width="5" height="18.0" fill="#f23645"/>
<line x1="1119.50" y1="326.2" x2="1119.50" y2="359.2" stroke="#de4a58" stroke-width="1.1"/>
<rect x="1117.00" y="340.8" width="5" height="1.3" fill="#f23645"/>
<line x1="1127.50" y1="321.3" x2="1127.50" y2="345.8" stroke="#2a917d" stroke-width="1.1"/>
<rect x="1125.00" y="333.7" width="5" height="11.3" fill="#089981"/>
<line x1="1134.50" y1="318.3" x2="1134.50" y2="352.0" stroke="#de4a58" stroke-width="1.1"/>
<rect x="1132.00" y="333.8" width="5" height="1.5" fill="#f23645"/>
<line x1="1141.50" y1="318.3" x2="1141.50" y2="339.7" stroke="#2a917d" stroke-width="1.1"/>
<rect x="1139.00" y="325.8" width="5" height="8.0" fill="#089981"/>
<line x1="1149.50" y1="315.3" x2="1149.50" y2="338.0" stroke="#de4a58" stroke-width="1.1"/>
<rect x="1147.00" y="324.2" width="5" height="1.3" fill="#f23645"/>
<line x1="1156.50" y1="304.5" x2="1156.50" y2="346.2" stroke="#2a917d" stroke-width="1.1"/>
<rect x="1154.00" y="310.5" width="5" height="15.3" fill="#089981"/>
<line x1="1163.50" y1="304.5" x2="1163.50" y2="320.0" stroke="#de4a58" stroke-width="1.1"/>
<rect x="1161.00" y="309.7" width="5" height="1.5" fill="#f23645"/>
<line x1="1171.50" y1="303.3" x2="1171.50" y2="330.8" stroke="#de4a58" stroke-width="1.1"/>
<rect x="1169.00" y="310.5" width="5" height="20.3" fill="#f23645"/>
<line x1="1178.50" y1="285.3" x2="1178.50" y2="333.0" stroke="#2a917d" stroke-width="1.1"/>
<rect x="1176.00" y="309.5" width="5" height="20.5" fill="#089981"/>
<line x1="1186.50" y1="294.5" x2="1186.50" y2="320.0" stroke="#de4a58" stroke-width="1.1"/>
<rect x="1184.00" y="309.5" width="5" height="7.2" fill="#f23645"/>
<line x1="1193.50" y1="297.2" x2="1193.50" y2="327.2" stroke="#2a917d" stroke-width="1.1"/>
<rect x="1191.00" y="313.7" width="5" height="4.3" fill="#089981"/>
<line x1="1200.50" y1="308.3" x2="1200.50" y2="335.8" stroke="#de4a58" stroke-width="1.1"/>
<rect x="1198.00" y="314.5" width="5" height="18.5" fill="#f23645"/>
<line x1="1208.50" y1="296.3" x2="1208.50" y2="338.0" stroke="#2a917d" stroke-width="1.1"/>
<rect x="1206.00" y="306.3" width="5" height="26.7" fill="#089981"/>
<line x1="1215.50" y1="297.2" x2="1215.50" y2="354.2" stroke="#de4a58" stroke-width="1.1"/>
<rect x="1213.00" y="305.5" width="5" height="37.3" fill="#f23645"/>
<line x1="1222.50" y1="332.5" x2="1222.50" y2="369.2" stroke="#de4a58" stroke-width="1.1"/>
<rect x="1220.00" y="341.7" width="5" height="15.0" fill="#f23645"/>
<line x1="1230.50" y1="351.7" x2="1230.50" y2="385.0" stroke="#de4a58" stroke-width="1.1"/>
<rect x="1228.00" y="359.2" width="5" height="25.8" fill="#f23645"/>
<line x1="1237.50" y1="375.3" x2="1237.50" y2="449.7" stroke="#de4a58" stroke-width="1.1"/>
<rect x="1235.00" y="382.0" width="5" height="67.7" fill="#f23645"/>
<line x1="1244.50" y1="431.3" x2="1244.50" y2="457.0" stroke="#2a917d" stroke-width="1.1"/>
<rect x="1242.00" y="437.0" width="5" height="12.2" fill="#089981"/>
<line x1="1252.50" y1="392.5" x2="1252.50" y2="437.5" stroke="#2a917d" stroke-width="1.1"/>
<rect x="1250.00" y="411.7" width="5" height="23.7" fill="#089981"/>
<line x1="1259.50" y1="406.3" x2="1259.50" y2="445.3" stroke="#de4a58" stroke-width="1.1"/>
<rect x="1257.00" y="413.8" width="5" height="27.0" fill="#f23645"/>
<line x1="1266.50" y1="418.3" x2="1266.50" y2="451.2" stroke="#2a917d" stroke-width="1.1"/>
<rect x="1264.00" y="421.3" width="5" height="20.8" fill="#089981"/>
<line x1="1274.50" y1="406.3" x2="1274.50" y2="462.5" stroke="#de4a58" stroke-width="1.1"/>
<rect x="1272.00" y="423.7" width="5" height="25.5" fill="#f23645"/>
<line x1="1281.50" y1="446.7" x2="1281.50" y2="451.3" stroke="#2a917d" stroke-width="1.1"/>
<rect x="1279.00" y="447.7" width="5" height="2.7" fill="#089981"/>
<line x1="2" y1="448" x2="1359" y2="448" stroke="#089981" stroke-width="1" stroke-dasharray="1 2.2"/>
<polyline points="2.0,587.5 16.2,595.0 31.2,609.5 46.2,621.2 60.0,632.5 67.5,628.8 75.0,630.5 86.2,639.5 97.5,647.5 111.2,645.8 125.0,651.2 137.5,658.8 150.0,664.5 156.2,665.8 163.8,666.2 175.0,668.8 185.0,672.0 192.5,668.8 206.2,652.0 212.5,652.5 225.0,656.2 236.2,657.5 245.0,661.8 258.8,665.5 265.5,663.8 272.5,658.8 282.5,651.8 295.0,643.0 303.8,647.5 310.0,650.0 317.5,655.0 325.0,657.5 338.8,656.2 353.8,652.0 360.0,655.0 370.0,658.0 376.2,658.0 385.0,653.0 398.0,645.5 413.2,657.0 420.0,650.0 428.8,636.2 436.2,629.5 442.5,627.0 450.0,630.0 457.5,635.0 465.0,637.5 472.5,639.5 478.8,642.0 487.5,647.0 495.0,648.2 501.2,649.5 508.8,646.2 517.5,639.2 530.0,627.5 538.8,622.5 545.5,617.5 560.0,617.5 567.5,625.0 575.0,628.2 582.5,630.0 596.2,618.8 605.0,614.2 620.0,601.2 633.8,585.5 642.5,588.0 651.2,590.8 663.8,590.5 671.2,591.2 677.5,589.5 685.0,580.0 700.0,553.0 708.8,543.0 715.0,534.2 720.0,533.0 730.0,532.5 736.2,530.0 745.0,529.8 751.2,531.2 758.8,537.0 766.2,538.0 773.8,539.5 781.2,545.0 788.8,552.0 796.2,565.0 802.5,573.8 810.0,580.0 817.5,585.5 825.0,588.8 832.5,588.5 840.0,588.0 847.5,583.8 855.0,577.5 861.2,568.8 868.8,557.5 876.2,548.8 883.8,537.0 891.2,532.0 898.8,532.0 905.5,532.8 913.8,529.5 920.8,526.0 927.5,532.5 935.5,540.5 942.5,544.5 950.0,548.2 957.5,557.5 965.0,566.0 971.2,562.5 980.0,547.5 987.5,536.2 993.8,528.8 1001.2,524.2 1008.8,521.8 1016.2,521.2 1023.8,524.2 1031.2,523.5 1037.5,524.5 1045.0,530.5 1052.5,538.0 1060.0,543.8 1068.2,550.5 1075.0,561.2 1080.0,567.5 1090.0,575.0 1097.5,576.2 1107.5,573.0 1117.5,569.5 1127.5,567.5 1137.5,564.5 1148.8,563.8 1162.5,569.2 1171.2,570.0 1185.0,581.2 1192.5,584.5 1200.0,585.8 1207.5,590.8 1215.0,591.8 1222.5,590.0 1229.5,585.0 1243.8,559.5 1255.0,557.5 1266.2,554.2 1281.2,556.0" fill="none" stroke="#ef7c7c" stroke-width="1.2" stroke-linejoin="round"/>
<line x1="2" y1="749.3" x2="1358" y2="749.3" stroke="#777" stroke-width="1" stroke-dasharray="1 2.2"/>
<line x1="2" y1="810.4" x2="1358" y2="810.4" stroke="#777" stroke-width="1" stroke-dasharray="1 2.2"/>
<defs>
<clipPath id="f0"><rect x="0" y="688" width="22.5" height="190"/></clipPath>
<clipPath id="f1"><rect x="22.5" y="688" width="589.0" height="190"/></clipPath>
<clipPath id="f2"><rect x="611.5" y="688" width="349.5" height="190"/></clipPath>
<clipPath id="f3"><rect x="961" y="688" width="114" height="190"/></clipPath>
<clipPath id="f4"><rect x="1075" y="688" width="208" height="190"/></clipPath>
<clipPath id="k0"><rect x="0" y="688" width="15" height="190"/></clipPath>
<clipPath id="k1"><rect x="15" y="688" width="7.5" height="190"/></clipPath>
<clipPath id="k2"><rect x="22.5" y="688" width="589.0" height="190"/></clipPath>
<clipPath id="k3"><rect x="611.5" y="688" width="344.5" height="190"/></clipPath>
<clipPath id="k4"><rect x="956" y="688" width="111.5" height="190"/></clipPath>
<clipPath id="k5"><rect x="1067.5" y="688" width="222.5" height="190"/></clipPath>
</defs>
<polygon points="2.0,842.5 8.8,838.8 16.2,841.2 23.8,825.8 31.2,830.0 37.5,834.2 45.0,832.0 53.8,831.8 60.0,834.5 67.5,838.2 75.0,833.0 82.5,817.5 90.0,821.8 97.5,825.8 103.8,814.2 111.2,815.0 118.8,820.0 125.0,825.0 135.0,820.0 141.2,818.0 150.0,820.5 162.5,817.5 171.2,821.2 178.8,827.0 185.5,827.0 192.5,834.2 200.0,841.2 206.2,844.5 215.0,827.5 221.2,826.2 230.0,831.2 236.2,833.8 245.0,827.0 251.2,830.5 258.8,831.8 265.0,818.8 273.8,802.0 281.2,805.8 288.8,807.0 296.2,812.5 303.8,817.5 310.0,821.8 317.5,816.2 325.0,811.8 332.5,808.8 338.8,812.5 346.2,810.0 353.8,811.8 360.0,817.0 370.0,825.0 376.2,829.2 385.0,834.5 398.0,840.0 406.2,823.8 413.2,827.0 420.0,791.2 428.8,771.8 435.0,785.8 442.5,790.0 450.0,796.2 457.5,802.5 465.0,810.0 472.5,815.8 480.0,816.8 487.5,813.8 495.0,798.2 501.2,803.8 508.8,792.5 516.8,780.0 523.8,784.5 531.2,790.0 538.8,795.0 545.5,796.2 553.8,802.5 560.8,805.5 567.5,811.8 575.0,816.8 582.5,821.2 590.0,829.2 597.5,833.8 605.0,831.8 611.2,835.0 620.0,839.2 627.0,843.8 633.8,845.0 642.0,824.2 650.0,829.2 656.2,832.5 663.8,836.2 671.2,835.8 677.5,839.2 685.0,845.0 692.5,850.8 700.0,856.2 707.5,854.2 714.5,858.0 720.0,845.0 722.5,841.2 729.5,840.5 737.0,843.2 745.0,840.8 751.2,839.2 758.8,830.5 766.2,834.5 773.8,839.2 781.2,830.0 788.8,826.8 796.2,814.2 802.5,820.0 810.5,823.8 818.0,827.0 825.0,831.2 832.5,835.0 840.0,838.0 847.5,842.5 855.0,845.0 862.0,848.2 869.5,851.2 876.8,853.2 883.8,855.8 891.2,844.2 898.8,834.5 905.5,837.5 913.8,841.8 920.8,845.5 927.5,826.8 935.5,819.2 942.5,828.8 950.0,832.0 957.5,815.0 961.2,811.2 965.0,798.8 972.5,752.5 980.0,717.0 987.0,736.2 993.8,748.0 1001.2,763.0 1008.8,770.0 1016.2,776.8 1023.8,783.2 1031.2,773.2 1037.5,784.5 1045.0,789.2 1052.5,793.8 1060.0,794.2 1067.5,800.5 1075.0,808.2 1080.0,813.0 1090.0,818.8 1097.5,824.5 1105.0,828.8 1111.2,831.2 1118.8,835.0 1127.5,834.2 1133.8,836.8 1141.2,839.2 1148.0,839.2 1156.2,835.0 1162.5,836.2 1170.5,839.5 1178.0,829.5 1185.0,832.5 1192.5,836.2 1200.0,839.5 1207.5,833.8 1215.0,838.8 1222.5,843.0 1229.5,847.0 1236.8,853.8 1243.8,855.5 1251.2,829.2 1258.8,833.2 1266.2,837.5 1273.8,834.2 1281.2,834.5 1281.2,793.0 1273.8,791.8 1266.2,781.2 1258.8,778.8 1251.2,776.8 1243.8,765.0 1236.8,764.2 1229.5,801.2 1222.5,807.5 1215.0,814.2 1207.5,818.8 1200.0,812.5 1192.5,815.0 1185.0,816.2 1178.0,812.5 1170.5,803.8 1162.5,806.8 1156.2,803.8 1148.0,797.0 1141.2,793.0 1133.8,788.8 1127.5,786.2 1118.8,781.2 1111.2,776.5 1105.0,775.5 1097.5,785.0 1090.0,795.0 1083.8,793.0 1080.0,796.2 1075.0,807.5 1067.5,824.5 1060.0,825.0 1052.5,821.2 1046.2,820.0 1037.5,835.0 1031.2,835.5 1023.8,830.0 1016.2,836.2 1008.8,839.5 1001.2,845.0 993.8,850.0 987.0,846.2 980.0,841.2 972.5,830.0 965.0,818.8 961.2,811.2 957.5,806.8 950.0,798.8 942.5,793.8 935.5,799.2 927.5,792.5 920.8,780.0 913.8,776.8 905.5,786.2 891.2,775.0 883.8,768.2 876.8,775.5 869.5,770.8 862.0,768.2 855.0,783.8 847.5,792.0 840.0,802.0 832.5,797.5 825.0,805.5 818.0,810.0 810.5,806.8 802.5,812.5 796.2,813.0 788.8,807.5 781.2,802.5 773.8,797.5 766.2,789.2 758.8,801.2 745.0,789.5 737.0,783.0 729.5,790.0 720.0,783.8 714.5,777.5 707.5,780.5 700.0,769.5 692.5,756.8 685.0,763.0 677.5,803.8 671.2,806.8 663.8,800.0 656.2,802.0 650.0,802.0 642.5,796.8 633.8,783.8 627.0,778.8 620.0,781.2 611.2,776.2 605.0,786.2 597.5,781.2 590.0,776.8 582.5,799.2 575.0,804.5 567.5,812.5 560.8,832.5 553.8,830.5 545.5,839.5 538.8,835.8 531.2,837.5 526.2,836.2 517.5,831.2 510.0,827.0 502.5,820.5 495.0,814.5 487.5,807.5 480.0,803.0 472.5,798.0 464.5,795.0 457.5,812.5 450.0,814.2 442.5,830.0 436.2,837.5 428.8,841.8 421.2,837.5 413.2,827.0 406.2,823.8 397.5,811.2 385.0,801.2 376.2,811.8 370.0,811.8 360.0,826.2 353.8,834.5 346.2,832.5 337.5,828.8 325.0,822.0 317.5,815.0 310.0,810.5 303.8,822.5 296.2,840.0 288.8,841.8 281.2,839.5 272.5,838.8 266.2,833.8 258.8,826.2 250.0,820.8 243.8,823.8 236.2,820.0 227.5,817.0 221.2,816.2 215.0,812.5 207.5,806.2 200.0,798.8 185.5,821.2 178.8,817.5 171.2,829.5 162.5,832.0 150.0,825.0 142.5,822.5 135.0,820.0 125.0,815.0 118.8,826.2 112.5,835.5 105.0,833.8 97.5,830.0 82.5,821.2 75.0,815.0 68.0,805.5 60.0,827.5 50.0,826.2 37.5,823.8 31.2,836.2 23.8,832.5 12.5,823.8 2.0,815.0" fill="rgba(200,30,30,0.10)" clip-path="url(#f0)"/>
<polygon points="2.0,842.5 8.8,838.8 16.2,841.2 23.8,825.8 31.2,830.0 37.5,834.2 45.0,832.0 53.8,831.8 60.0,834.5 67.5,838.2 75.0,833.0 82.5,817.5 90.0,821.8 97.5,825.8 103.8,814.2 111.2,815.0 118.8,820.0 125.0,825.0 135.0,820.0 141.2,818.0 150.0,820.5 162.5,817.5 171.2,821.2 178.8,827.0 185.5,827.0 192.5,834.2 200.0,841.2 206.2,844.5 215.0,827.5 221.2,826.2 230.0,831.2 236.2,833.8 245.0,827.0 251.2,830.5 258.8,831.8 265.0,818.8 273.8,802.0 281.2,805.8 288.8,807.0 296.2,812.5 303.8,817.5 310.0,821.8 317.5,816.2 325.0,811.8 332.5,808.8 338.8,812.5 346.2,810.0 353.8,811.8 360.0,817.0 370.0,825.0 376.2,829.2 385.0,834.5 398.0,840.0 406.2,823.8 413.2,827.0 420.0,791.2 428.8,771.8 435.0,785.8 442.5,790.0 450.0,796.2 457.5,802.5 465.0,810.0 472.5,815.8 480.0,816.8 487.5,813.8 495.0,798.2 501.2,803.8 508.8,792.5 516.8,780.0 523.8,784.5 531.2,790.0 538.8,795.0 545.5,796.2 553.8,802.5 560.8,805.5 567.5,811.8 575.0,816.8 582.5,821.2 590.0,829.2 597.5,833.8 605.0,831.8 611.2,835.0 620.0,839.2 627.0,843.8 633.8,845.0 642.0,824.2 650.0,829.2 656.2,832.5 663.8,836.2 671.2,835.8 677.5,839.2 685.0,845.0 692.5,850.8 700.0,856.2 707.5,854.2 714.5,858.0 720.0,845.0 722.5,841.2 729.5,840.5 737.0,843.2 745.0,840.8 751.2,839.2 758.8,830.5 766.2,834.5 773.8,839.2 781.2,830.0 788.8,826.8 796.2,814.2 802.5,820.0 810.5,823.8 818.0,827.0 825.0,831.2 832.5,835.0 840.0,838.0 847.5,842.5 855.0,845.0 862.0,848.2 869.5,851.2 876.8,853.2 883.8,855.8 891.2,844.2 898.8,834.5 905.5,837.5 913.8,841.8 920.8,845.5 927.5,826.8 935.5,819.2 942.5,828.8 950.0,832.0 957.5,815.0 961.2,811.2 965.0,798.8 972.5,752.5 980.0,717.0 987.0,736.2 993.8,748.0 1001.2,763.0 1008.8,770.0 1016.2,776.8 1023.8,783.2 1031.2,773.2 1037.5,784.5 1045.0,789.2 1052.5,793.8 1060.0,794.2 1067.5,800.5 1075.0,808.2 1080.0,813.0 1090.0,818.8 1097.5,824.5 1105.0,828.8 1111.2,831.2 1118.8,835.0 1127.5,834.2 1133.8,836.8 1141.2,839.2 1148.0,839.2 1156.2,835.0 1162.5,836.2 1170.5,839.5 1178.0,829.5 1185.0,832.5 1192.5,836.2 1200.0,839.5 1207.5,833.8 1215.0,838.8 1222.5,843.0 1229.5,847.0 1236.8,853.8 1243.8,855.5 1251.2,829.2 1258.8,833.2 1266.2,837.5 1273.8,834.2 1281.2,834.5 1281.2,793.0 1273.8,791.8 1266.2,781.2 1258.8,778.8 1251.2,776.8 1243.8,765.0 1236.8,764.2 1229.5,801.2 1222.5,807.5 1215.0,814.2 1207.5,818.8 1200.0,812.5 1192.5,815.0 1185.0,816.2 1178.0,812.5 1170.5,803.8 1162.5,806.8 1156.2,803.8 1148.0,797.0 1141.2,793.0 1133.8,788.8 1127.5,786.2 1118.8,781.2 1111.2,776.5 1105.0,775.5 1097.5,785.0 1090.0,795.0 1083.8,793.0 1080.0,796.2 1075.0,807.5 1067.5,824.5 1060.0,825.0 1052.5,821.2 1046.2,820.0 1037.5,835.0 1031.2,835.5 1023.8,830.0 1016.2,836.2 1008.8,839.5 1001.2,845.0 993.8,850.0 987.0,846.2 980.0,841.2 972.5,830.0 965.0,818.8 961.2,811.2 957.5,806.8 950.0,798.8 942.5,793.8 935.5,799.2 927.5,792.5 920.8,780.0 913.8,776.8 905.5,786.2 891.2,775.0 883.8,768.2 876.8,775.5 869.5,770.8 862.0,768.2 855.0,783.8 847.5,792.0 840.0,802.0 832.5,797.5 825.0,805.5 818.0,810.0 810.5,806.8 802.5,812.5 796.2,813.0 788.8,807.5 781.2,802.5 773.8,797.5 766.2,789.2 758.8,801.2 745.0,789.5 737.0,783.0 729.5,790.0 720.0,783.8 714.5,777.5 707.5,780.5 700.0,769.5 692.5,756.8 685.0,763.0 677.5,803.8 671.2,806.8 663.8,800.0 656.2,802.0 650.0,802.0 642.5,796.8 633.8,783.8 627.0,778.8 620.0,781.2 611.2,776.2 605.0,786.2 597.5,781.2 590.0,776.8 582.5,799.2 575.0,804.5 567.5,812.5 560.8,832.5 553.8,830.5 545.5,839.5 538.8,835.8 531.2,837.5 526.2,836.2 517.5,831.2 510.0,827.0 502.5,820.5 495.0,814.5 487.5,807.5 480.0,803.0 472.5,798.0 464.5,795.0 457.5,812.5 450.0,814.2 442.5,830.0 436.2,837.5 428.8,841.8 421.2,837.5 413.2,827.0 406.2,823.8 397.5,811.2 385.0,801.2 376.2,811.8 370.0,811.8 360.0,826.2 353.8,834.5 346.2,832.5 337.5,828.8 325.0,822.0 317.5,815.0 310.0,810.5 303.8,822.5 296.2,840.0 288.8,841.8 281.2,839.5 272.5,838.8 266.2,833.8 258.8,826.2 250.0,820.8 243.8,823.8 236.2,820.0 227.5,817.0 221.2,816.2 215.0,812.5 207.5,806.2 200.0,798.8 185.5,821.2 178.8,817.5 171.2,829.5 162.5,832.0 150.0,825.0 142.5,822.5 135.0,820.0 125.0,815.0 118.8,826.2 112.5,835.5 105.0,833.8 97.5,830.0 82.5,821.2 75.0,815.0 68.0,805.5 60.0,827.5 50.0,826.2 37.5,823.8 31.2,836.2 23.8,832.5 12.5,823.8 2.0,815.0" fill="rgba(245,130,20,0.105)" clip-path="url(#f1)"/>
<polygon points="2.0,842.5 8.8,838.8 16.2,841.2 23.8,825.8 31.2,830.0 37.5,834.2 45.0,832.0 53.8,831.8 60.0,834.5 67.5,838.2 75.0,833.0 82.5,817.5 90.0,821.8 97.5,825.8 103.8,814.2 111.2,815.0 118.8,820.0 125.0,825.0 135.0,820.0 141.2,818.0 150.0,820.5 162.5,817.5 171.2,821.2 178.8,827.0 185.5,827.0 192.5,834.2 200.0,841.2 206.2,844.5 215.0,827.5 221.2,826.2 230.0,831.2 236.2,833.8 245.0,827.0 251.2,830.5 258.8,831.8 265.0,818.8 273.8,802.0 281.2,805.8 288.8,807.0 296.2,812.5 303.8,817.5 310.0,821.8 317.5,816.2 325.0,811.8 332.5,808.8 338.8,812.5 346.2,810.0 353.8,811.8 360.0,817.0 370.0,825.0 376.2,829.2 385.0,834.5 398.0,840.0 406.2,823.8 413.2,827.0 420.0,791.2 428.8,771.8 435.0,785.8 442.5,790.0 450.0,796.2 457.5,802.5 465.0,810.0 472.5,815.8 480.0,816.8 487.5,813.8 495.0,798.2 501.2,803.8 508.8,792.5 516.8,780.0 523.8,784.5 531.2,790.0 538.8,795.0 545.5,796.2 553.8,802.5 560.8,805.5 567.5,811.8 575.0,816.8 582.5,821.2 590.0,829.2 597.5,833.8 605.0,831.8 611.2,835.0 620.0,839.2 627.0,843.8 633.8,845.0 642.0,824.2 650.0,829.2 656.2,832.5 663.8,836.2 671.2,835.8 677.5,839.2 685.0,845.0 692.5,850.8 700.0,856.2 707.5,854.2 714.5,858.0 720.0,845.0 722.5,841.2 729.5,840.5 737.0,843.2 745.0,840.8 751.2,839.2 758.8,830.5 766.2,834.5 773.8,839.2 781.2,830.0 788.8,826.8 796.2,814.2 802.5,820.0 810.5,823.8 818.0,827.0 825.0,831.2 832.5,835.0 840.0,838.0 847.5,842.5 855.0,845.0 862.0,848.2 869.5,851.2 876.8,853.2 883.8,855.8 891.2,844.2 898.8,834.5 905.5,837.5 913.8,841.8 920.8,845.5 927.5,826.8 935.5,819.2 942.5,828.8 950.0,832.0 957.5,815.0 961.2,811.2 965.0,798.8 972.5,752.5 980.0,717.0 987.0,736.2 993.8,748.0 1001.2,763.0 1008.8,770.0 1016.2,776.8 1023.8,783.2 1031.2,773.2 1037.5,784.5 1045.0,789.2 1052.5,793.8 1060.0,794.2 1067.5,800.5 1075.0,808.2 1080.0,813.0 1090.0,818.8 1097.5,824.5 1105.0,828.8 1111.2,831.2 1118.8,835.0 1127.5,834.2 1133.8,836.8 1141.2,839.2 1148.0,839.2 1156.2,835.0 1162.5,836.2 1170.5,839.5 1178.0,829.5 1185.0,832.5 1192.5,836.2 1200.0,839.5 1207.5,833.8 1215.0,838.8 1222.5,843.0 1229.5,847.0 1236.8,853.8 1243.8,855.5 1251.2,829.2 1258.8,833.2 1266.2,837.5 1273.8,834.2 1281.2,834.5 1281.2,793.0 1273.8,791.8 1266.2,781.2 1258.8,778.8 1251.2,776.8 1243.8,765.0 1236.8,764.2 1229.5,801.2 1222.5,807.5 1215.0,814.2 1207.5,818.8 1200.0,812.5 1192.5,815.0 1185.0,816.2 1178.0,812.5 1170.5,803.8 1162.5,806.8 1156.2,803.8 1148.0,797.0 1141.2,793.0 1133.8,788.8 1127.5,786.2 1118.8,781.2 1111.2,776.5 1105.0,775.5 1097.5,785.0 1090.0,795.0 1083.8,793.0 1080.0,796.2 1075.0,807.5 1067.5,824.5 1060.0,825.0 1052.5,821.2 1046.2,820.0 1037.5,835.0 1031.2,835.5 1023.8,830.0 1016.2,836.2 1008.8,839.5 1001.2,845.0 993.8,850.0 987.0,846.2 980.0,841.2 972.5,830.0 965.0,818.8 961.2,811.2 957.5,806.8 950.0,798.8 942.5,793.8 935.5,799.2 927.5,792.5 920.8,780.0 913.8,776.8 905.5,786.2 891.2,775.0 883.8,768.2 876.8,775.5 869.5,770.8 862.0,768.2 855.0,783.8 847.5,792.0 840.0,802.0 832.5,797.5 825.0,805.5 818.0,810.0 810.5,806.8 802.5,812.5 796.2,813.0 788.8,807.5 781.2,802.5 773.8,797.5 766.2,789.2 758.8,801.2 745.0,789.5 737.0,783.0 729.5,790.0 720.0,783.8 714.5,777.5 707.5,780.5 700.0,769.5 692.5,756.8 685.0,763.0 677.5,803.8 671.2,806.8 663.8,800.0 656.2,802.0 650.0,802.0 642.5,796.8 633.8,783.8 627.0,778.8 620.0,781.2 611.2,776.2 605.0,786.2 597.5,781.2 590.0,776.8 582.5,799.2 575.0,804.5 567.5,812.5 560.8,832.5 553.8,830.5 545.5,839.5 538.8,835.8 531.2,837.5 526.2,836.2 517.5,831.2 510.0,827.0 502.5,820.5 495.0,814.5 487.5,807.5 480.0,803.0 472.5,798.0 464.5,795.0 457.5,812.5 450.0,814.2 442.5,830.0 436.2,837.5 428.8,841.8 421.2,837.5 413.2,827.0 406.2,823.8 397.5,811.2 385.0,801.2 376.2,811.8 370.0,811.8 360.0,826.2 353.8,834.5 346.2,832.5 337.5,828.8 325.0,822.0 317.5,815.0 310.0,810.5 303.8,822.5 296.2,840.0 288.8,841.8 281.2,839.5 272.5,838.8 266.2,833.8 258.8,826.2 250.0,820.8 243.8,823.8 236.2,820.0 227.5,817.0 221.2,816.2 215.0,812.5 207.5,806.2 200.0,798.8 185.5,821.2 178.8,817.5 171.2,829.5 162.5,832.0 150.0,825.0 142.5,822.5 135.0,820.0 125.0,815.0 118.8,826.2 112.5,835.5 105.0,833.8 97.5,830.0 82.5,821.2 75.0,815.0 68.0,805.5 60.0,827.5 50.0,826.2 37.5,823.8 31.2,836.2 23.8,832.5 12.5,823.8 2.0,815.0" fill="rgba(200,30,30,0.10)" clip-path="url(#f2)"/>
<polygon points="2.0,842.5 8.8,838.8 16.2,841.2 23.8,825.8 31.2,830.0 37.5,834.2 45.0,832.0 53.8,831.8 60.0,834.5 67.5,838.2 75.0,833.0 82.5,817.5 90.0,821.8 97.5,825.8 103.8,814.2 111.2,815.0 118.8,820.0 125.0,825.0 135.0,820.0 141.2,818.0 150.0,820.5 162.5,817.5 171.2,821.2 178.8,827.0 185.5,827.0 192.5,834.2 200.0,841.2 206.2,844.5 215.0,827.5 221.2,826.2 230.0,831.2 236.2,833.8 245.0,827.0 251.2,830.5 258.8,831.8 265.0,818.8 273.8,802.0 281.2,805.8 288.8,807.0 296.2,812.5 303.8,817.5 310.0,821.8 317.5,816.2 325.0,811.8 332.5,808.8 338.8,812.5 346.2,810.0 353.8,811.8 360.0,817.0 370.0,825.0 376.2,829.2 385.0,834.5 398.0,840.0 406.2,823.8 413.2,827.0 420.0,791.2 428.8,771.8 435.0,785.8 442.5,790.0 450.0,796.2 457.5,802.5 465.0,810.0 472.5,815.8 480.0,816.8 487.5,813.8 495.0,798.2 501.2,803.8 508.8,792.5 516.8,780.0 523.8,784.5 531.2,790.0 538.8,795.0 545.5,796.2 553.8,802.5 560.8,805.5 567.5,811.8 575.0,816.8 582.5,821.2 590.0,829.2 597.5,833.8 605.0,831.8 611.2,835.0 620.0,839.2 627.0,843.8 633.8,845.0 642.0,824.2 650.0,829.2 656.2,832.5 663.8,836.2 671.2,835.8 677.5,839.2 685.0,845.0 692.5,850.8 700.0,856.2 707.5,854.2 714.5,858.0 720.0,845.0 722.5,841.2 729.5,840.5 737.0,843.2 745.0,840.8 751.2,839.2 758.8,830.5 766.2,834.5 773.8,839.2 781.2,830.0 788.8,826.8 796.2,814.2 802.5,820.0 810.5,823.8 818.0,827.0 825.0,831.2 832.5,835.0 840.0,838.0 847.5,842.5 855.0,845.0 862.0,848.2 869.5,851.2 876.8,853.2 883.8,855.8 891.2,844.2 898.8,834.5 905.5,837.5 913.8,841.8 920.8,845.5 927.5,826.8 935.5,819.2 942.5,828.8 950.0,832.0 957.5,815.0 961.2,811.2 965.0,798.8 972.5,752.5 980.0,717.0 987.0,736.2 993.8,748.0 1001.2,763.0 1008.8,770.0 1016.2,776.8 1023.8,783.2 1031.2,773.2 1037.5,784.5 1045.0,789.2 1052.5,793.8 1060.0,794.2 1067.5,800.5 1075.0,808.2 1080.0,813.0 1090.0,818.8 1097.5,824.5 1105.0,828.8 1111.2,831.2 1118.8,835.0 1127.5,834.2 1133.8,836.8 1141.2,839.2 1148.0,839.2 1156.2,835.0 1162.5,836.2 1170.5,839.5 1178.0,829.5 1185.0,832.5 1192.5,836.2 1200.0,839.5 1207.5,833.8 1215.0,838.8 1222.5,843.0 1229.5,847.0 1236.8,853.8 1243.8,855.5 1251.2,829.2 1258.8,833.2 1266.2,837.5 1273.8,834.2 1281.2,834.5 1281.2,793.0 1273.8,791.8 1266.2,781.2 1258.8,778.8 1251.2,776.8 1243.8,765.0 1236.8,764.2 1229.5,801.2 1222.5,807.5 1215.0,814.2 1207.5,818.8 1200.0,812.5 1192.5,815.0 1185.0,816.2 1178.0,812.5 1170.5,803.8 1162.5,806.8 1156.2,803.8 1148.0,797.0 1141.2,793.0 1133.8,788.8 1127.5,786.2 1118.8,781.2 1111.2,776.5 1105.0,775.5 1097.5,785.0 1090.0,795.0 1083.8,793.0 1080.0,796.2 1075.0,807.5 1067.5,824.5 1060.0,825.0 1052.5,821.2 1046.2,820.0 1037.5,835.0 1031.2,835.5 1023.8,830.0 1016.2,836.2 1008.8,839.5 1001.2,845.0 993.8,850.0 987.0,846.2 980.0,841.2 972.5,830.0 965.0,818.8 961.2,811.2 957.5,806.8 950.0,798.8 942.5,793.8 935.5,799.2 927.5,792.5 920.8,780.0 913.8,776.8 905.5,786.2 891.2,775.0 883.8,768.2 876.8,775.5 869.5,770.8 862.0,768.2 855.0,783.8 847.5,792.0 840.0,802.0 832.5,797.5 825.0,805.5 818.0,810.0 810.5,806.8 802.5,812.5 796.2,813.0 788.8,807.5 781.2,802.5 773.8,797.5 766.2,789.2 758.8,801.2 745.0,789.5 737.0,783.0 729.5,790.0 720.0,783.8 714.5,777.5 707.5,780.5 700.0,769.5 692.5,756.8 685.0,763.0 677.5,803.8 671.2,806.8 663.8,800.0 656.2,802.0 650.0,802.0 642.5,796.8 633.8,783.8 627.0,778.8 620.0,781.2 611.2,776.2 605.0,786.2 597.5,781.2 590.0,776.8 582.5,799.2 575.0,804.5 567.5,812.5 560.8,832.5 553.8,830.5 545.5,839.5 538.8,835.8 531.2,837.5 526.2,836.2 517.5,831.2 510.0,827.0 502.5,820.5 495.0,814.5 487.5,807.5 480.0,803.0 472.5,798.0 464.5,795.0 457.5,812.5 450.0,814.2 442.5,830.0 436.2,837.5 428.8,841.8 421.2,837.5 413.2,827.0 406.2,823.8 397.5,811.2 385.0,801.2 376.2,811.8 370.0,811.8 360.0,826.2 353.8,834.5 346.2,832.5 337.5,828.8 325.0,822.0 317.5,815.0 310.0,810.5 303.8,822.5 296.2,840.0 288.8,841.8 281.2,839.5 272.5,838.8 266.2,833.8 258.8,826.2 250.0,820.8 243.8,823.8 236.2,820.0 227.5,817.0 221.2,816.2 215.0,812.5 207.5,806.2 200.0,798.8 185.5,821.2 178.8,817.5 171.2,829.5 162.5,832.0 150.0,825.0 142.5,822.5 135.0,820.0 125.0,815.0 118.8,826.2 112.5,835.5 105.0,833.8 97.5,830.0 82.5,821.2 75.0,815.0 68.0,805.5 60.0,827.5 50.0,826.2 37.5,823.8 31.2,836.2 23.8,832.5 12.5,823.8 2.0,815.0" fill="rgba(0,100,0,0.10)" clip-path="url(#f3)"/>
<polygon points="2.0,842.5 8.8,838.8 16.2,841.2 23.8,825.8 31.2,830.0 37.5,834.2 45.0,832.0 53.8,831.8 60.0,834.5 67.5,838.2 75.0,833.0 82.5,817.5 90.0,821.8 97.5,825.8 103.8,814.2 111.2,815.0 118.8,820.0 125.0,825.0 135.0,820.0 141.2,818.0 150.0,820.5 162.5,817.5 171.2,821.2 178.8,827.0 185.5,827.0 192.5,834.2 200.0,841.2 206.2,844.5 215.0,827.5 221.2,826.2 230.0,831.2 236.2,833.8 245.0,827.0 251.2,830.5 258.8,831.8 265.0,818.8 273.8,802.0 281.2,805.8 288.8,807.0 296.2,812.5 303.8,817.5 310.0,821.8 317.5,816.2 325.0,811.8 332.5,808.8 338.8,812.5 346.2,810.0 353.8,811.8 360.0,817.0 370.0,825.0 376.2,829.2 385.0,834.5 398.0,840.0 406.2,823.8 413.2,827.0 420.0,791.2 428.8,771.8 435.0,785.8 442.5,790.0 450.0,796.2 457.5,802.5 465.0,810.0 472.5,815.8 480.0,816.8 487.5,813.8 495.0,798.2 501.2,803.8 508.8,792.5 516.8,780.0 523.8,784.5 531.2,790.0 538.8,795.0 545.5,796.2 553.8,802.5 560.8,805.5 567.5,811.8 575.0,816.8 582.5,821.2 590.0,829.2 597.5,833.8 605.0,831.8 611.2,835.0 620.0,839.2 627.0,843.8 633.8,845.0 642.0,824.2 650.0,829.2 656.2,832.5 663.8,836.2 671.2,835.8 677.5,839.2 685.0,845.0 692.5,850.8 700.0,856.2 707.5,854.2 714.5,858.0 720.0,845.0 722.5,841.2 729.5,840.5 737.0,843.2 745.0,840.8 751.2,839.2 758.8,830.5 766.2,834.5 773.8,839.2 781.2,830.0 788.8,826.8 796.2,814.2 802.5,820.0 810.5,823.8 818.0,827.0 825.0,831.2 832.5,835.0 840.0,838.0 847.5,842.5 855.0,845.0 862.0,848.2 869.5,851.2 876.8,853.2 883.8,855.8 891.2,844.2 898.8,834.5 905.5,837.5 913.8,841.8 920.8,845.5 927.5,826.8 935.5,819.2 942.5,828.8 950.0,832.0 957.5,815.0 961.2,811.2 965.0,798.8 972.5,752.5 980.0,717.0 987.0,736.2 993.8,748.0 1001.2,763.0 1008.8,770.0 1016.2,776.8 1023.8,783.2 1031.2,773.2 1037.5,784.5 1045.0,789.2 1052.5,793.8 1060.0,794.2 1067.5,800.5 1075.0,808.2 1080.0,813.0 1090.0,818.8 1097.5,824.5 1105.0,828.8 1111.2,831.2 1118.8,835.0 1127.5,834.2 1133.8,836.8 1141.2,839.2 1148.0,839.2 1156.2,835.0 1162.5,836.2 1170.5,839.5 1178.0,829.5 1185.0,832.5 1192.5,836.2 1200.0,839.5 1207.5,833.8 1215.0,838.8 1222.5,843.0 1229.5,847.0 1236.8,853.8 1243.8,855.5 1251.2,829.2 1258.8,833.2 1266.2,837.5 1273.8,834.2 1281.2,834.5 1281.2,793.0 1273.8,791.8 1266.2,781.2 1258.8,778.8 1251.2,776.8 1243.8,765.0 1236.8,764.2 1229.5,801.2 1222.5,807.5 1215.0,814.2 1207.5,818.8 1200.0,812.5 1192.5,815.0 1185.0,816.2 1178.0,812.5 1170.5,803.8 1162.5,806.8 1156.2,803.8 1148.0,797.0 1141.2,793.0 1133.8,788.8 1127.5,786.2 1118.8,781.2 1111.2,776.5 1105.0,775.5 1097.5,785.0 1090.0,795.0 1083.8,793.0 1080.0,796.2 1075.0,807.5 1067.5,824.5 1060.0,825.0 1052.5,821.2 1046.2,820.0 1037.5,835.0 1031.2,835.5 1023.8,830.0 1016.2,836.2 1008.8,839.5 1001.2,845.0 993.8,850.0 987.0,846.2 980.0,841.2 972.5,830.0 965.0,818.8 961.2,811.2 957.5,806.8 950.0,798.8 942.5,793.8 935.5,799.2 927.5,792.5 920.8,780.0 913.8,776.8 905.5,786.2 891.2,775.0 883.8,768.2 876.8,775.5 869.5,770.8 862.0,768.2 855.0,783.8 847.5,792.0 840.0,802.0 832.5,797.5 825.0,805.5 818.0,810.0 810.5,806.8 802.5,812.5 796.2,813.0 788.8,807.5 781.2,802.5 773.8,797.5 766.2,789.2 758.8,801.2 745.0,789.5 737.0,783.0 729.5,790.0 720.0,783.8 714.5,777.5 707.5,780.5 700.0,769.5 692.5,756.8 685.0,763.0 677.5,803.8 671.2,806.8 663.8,800.0 656.2,802.0 650.0,802.0 642.5,796.8 633.8,783.8 627.0,778.8 620.0,781.2 611.2,776.2 605.0,786.2 597.5,781.2 590.0,776.8 582.5,799.2 575.0,804.5 567.5,812.5 560.8,832.5 553.8,830.5 545.5,839.5 538.8,835.8 531.2,837.5 526.2,836.2 517.5,831.2 510.0,827.0 502.5,820.5 495.0,814.5 487.5,807.5 480.0,803.0 472.5,798.0 464.5,795.0 457.5,812.5 450.0,814.2 442.5,830.0 436.2,837.5 428.8,841.8 421.2,837.5 413.2,827.0 406.2,823.8 397.5,811.2 385.0,801.2 376.2,811.8 370.0,811.8 360.0,826.2 353.8,834.5 346.2,832.5 337.5,828.8 325.0,822.0 317.5,815.0 310.0,810.5 303.8,822.5 296.2,840.0 288.8,841.8 281.2,839.5 272.5,838.8 266.2,833.8 258.8,826.2 250.0,820.8 243.8,823.8 236.2,820.0 227.5,817.0 221.2,816.2 215.0,812.5 207.5,806.2 200.0,798.8 185.5,821.2 178.8,817.5 171.2,829.5 162.5,832.0 150.0,825.0 142.5,822.5 135.0,820.0 125.0,815.0 118.8,826.2 112.5,835.5 105.0,833.8 97.5,830.0 82.5,821.2 75.0,815.0 68.0,805.5 60.0,827.5 50.0,826.2 37.5,823.8 31.2,836.2 23.8,832.5 12.5,823.8 2.0,815.0" fill="rgba(200,30,30,0.10)" clip-path="url(#f4)"/>
<polyline points="2.0,815.0 12.5,823.8 23.8,832.5 31.2,836.2 37.5,823.8 50.0,826.2 60.0,827.5 68.0,805.5 75.0,815.0 82.5,821.2 97.5,830.0 105.0,833.8 112.5,835.5 118.8,826.2 125.0,815.0 135.0,820.0 142.5,822.5 150.0,825.0 162.5,832.0 171.2,829.5 178.8,817.5 185.5,821.2 200.0,798.8 207.5,806.2 215.0,812.5 221.2,816.2 227.5,817.0 236.2,820.0 243.8,823.8 250.0,820.8 258.8,826.2 266.2,833.8 272.5,838.8 281.2,839.5 288.8,841.8 296.2,840.0 303.8,822.5 310.0,810.5 317.5,815.0 325.0,822.0 337.5,828.8 346.2,832.5 353.8,834.5 360.0,826.2 370.0,811.8 376.2,811.8 385.0,801.2 397.5,811.2 406.2,823.8 413.2,827.0 421.2,837.5 428.8,841.8 436.2,837.5 442.5,830.0 450.0,814.2 457.5,812.5 464.5,795.0 472.5,798.0 480.0,803.0 487.5,807.5 495.0,814.5 502.5,820.5 510.0,827.0 517.5,831.2 526.2,836.2 531.2,837.5 538.8,835.8 545.5,839.5 553.8,830.5 560.8,832.5 567.5,812.5 575.0,804.5 582.5,799.2 590.0,776.8 597.5,781.2 605.0,786.2 611.2,776.2 620.0,781.2 627.0,778.8 633.8,783.8 642.5,796.8 650.0,802.0 656.2,802.0 663.8,800.0 671.2,806.8 677.5,803.8 685.0,763.0 692.5,756.8 700.0,769.5 707.5,780.5 714.5,777.5 720.0,783.8 729.5,790.0 737.0,783.0 745.0,789.5 758.8,801.2 766.2,789.2 773.8,797.5 781.2,802.5 788.8,807.5 796.2,813.0 802.5,812.5 810.5,806.8 818.0,810.0 825.0,805.5 832.5,797.5 840.0,802.0 847.5,792.0 855.0,783.8 862.0,768.2 869.5,770.8 876.8,775.5 883.8,768.2 891.2,775.0 905.5,786.2 913.8,776.8 920.8,780.0 927.5,792.5 935.5,799.2 942.5,793.8 950.0,798.8 957.5,806.8 961.2,811.2 965.0,818.8 972.5,830.0 980.0,841.2 987.0,846.2 993.8,850.0 1001.2,845.0 1008.8,839.5 1016.2,836.2 1023.8,830.0 1031.2,835.5 1037.5,835.0 1046.2,820.0 1052.5,821.2 1060.0,825.0 1067.5,824.5 1075.0,807.5 1080.0,796.2 1083.8,793.0 1090.0,795.0 1097.5,785.0 1105.0,775.5 1111.2,776.5 1118.8,781.2 1127.5,786.2 1133.8,788.8 1141.2,793.0 1148.0,797.0 1156.2,803.8 1162.5,806.8 1170.5,803.8 1178.0,812.5 1185.0,816.2 1192.5,815.0 1200.0,812.5 1207.5,818.8 1215.0,814.2 1222.5,807.5 1229.5,801.2 1236.8,764.2 1243.8,765.0 1251.2,776.8 1258.8,778.8 1266.2,781.2 1273.8,791.8 1281.2,793.0" fill="none" stroke="#a23a48" stroke-width="1.2" stroke-linejoin="round"/>
<polyline points="2.0,842.5 8.8,838.8 16.2,841.2 23.8,825.8 31.2,830.0 37.5,834.2 45.0,832.0 53.8,831.8 60.0,834.5 67.5,838.2 75.0,833.0 82.5,817.5 90.0,821.8 97.5,825.8 103.8,814.2 111.2,815.0 118.8,820.0 125.0,825.0 135.0,820.0 141.2,818.0 150.0,820.5 162.5,817.5 171.2,821.2 178.8,827.0 185.5,827.0 192.5,834.2 200.0,841.2 206.2,844.5 215.0,827.5 221.2,826.2 230.0,831.2 236.2,833.8 245.0,827.0 251.2,830.5 258.8,831.8 265.0,818.8 273.8,802.0 281.2,805.8 288.8,807.0 296.2,812.5 303.8,817.5 310.0,821.8 317.5,816.2 325.0,811.8 332.5,808.8 338.8,812.5 346.2,810.0 353.8,811.8 360.0,817.0 370.0,825.0 376.2,829.2 385.0,834.5 398.0,840.0 406.2,823.8 413.2,827.0 420.0,791.2 428.8,771.8 435.0,785.8 442.5,790.0 450.0,796.2 457.5,802.5 465.0,810.0 472.5,815.8 480.0,816.8 487.5,813.8 495.0,798.2 501.2,803.8 508.8,792.5 516.8,780.0 523.8,784.5 531.2,790.0 538.8,795.0 545.5,796.2 553.8,802.5 560.8,805.5 567.5,811.8 575.0,816.8 582.5,821.2 590.0,829.2 597.5,833.8 605.0,831.8 611.2,835.0 620.0,839.2 627.0,843.8 633.8,845.0 642.0,824.2 650.0,829.2 656.2,832.5 663.8,836.2 671.2,835.8 677.5,839.2 685.0,845.0 692.5,850.8 700.0,856.2 707.5,854.2 714.5,858.0 720.0,845.0 722.5,841.2 729.5,840.5 737.0,843.2 745.0,840.8 751.2,839.2 758.8,830.5 766.2,834.5 773.8,839.2 781.2,830.0 788.8,826.8 796.2,814.2 802.5,820.0 810.5,823.8 818.0,827.0 825.0,831.2 832.5,835.0 840.0,838.0 847.5,842.5 855.0,845.0 862.0,848.2 869.5,851.2 876.8,853.2 883.8,855.8 891.2,844.2 898.8,834.5 905.5,837.5 913.8,841.8 920.8,845.5 927.5,826.8 935.5,819.2 942.5,828.8 950.0,832.0 957.5,815.0 961.2,811.2 965.0,798.8 972.5,752.5 980.0,717.0 987.0,736.2 993.8,748.0 1001.2,763.0 1008.8,770.0 1016.2,776.8 1023.8,783.2 1031.2,773.2 1037.5,784.5 1045.0,789.2 1052.5,793.8 1060.0,794.2 1067.5,800.5 1075.0,808.2 1080.0,813.0 1090.0,818.8 1097.5,824.5 1105.0,828.8 1111.2,831.2 1118.8,835.0 1127.5,834.2 1133.8,836.8 1141.2,839.2 1148.0,839.2 1156.2,835.0 1162.5,836.2 1170.5,839.5 1178.0,829.5 1185.0,832.5 1192.5,836.2 1200.0,839.5 1207.5,833.8 1215.0,838.8 1222.5,843.0 1229.5,847.0 1236.8,853.8 1243.8,855.5 1251.2,829.2 1258.8,833.2 1266.2,837.5 1273.8,834.2 1281.2,834.5" fill="none" stroke="#3c8c3c" stroke-width="1.2" stroke-linejoin="round"/>
<polyline points="2.0,797.7 16.2,802.8 31.2,812.6 46.2,820.6 60.0,828.2 67.5,825.6 75.0,826.8 86.2,832.9 97.5,838.3 111.2,837.1 125.0,840.9 137.5,845.9 150.0,849.8 156.2,850.7 163.8,851.0 175.0,852.7 185.0,854.9 192.5,852.7 206.2,841.4 212.5,841.7 225.0,844.2 236.2,845.1 245.0,848.0 258.8,850.5 265.5,849.3 272.5,845.9 282.5,841.2 295.0,835.3 303.8,838.3 310.0,840.0 317.5,843.4 325.0,845.1 338.8,844.2 353.8,841.4 360.0,843.4 370.0,845.4 376.2,845.4 385.0,842.0 398.0,837.0 413.2,844.7 420.0,840.0 428.8,830.7 436.2,826.1 442.5,824.5 450.0,826.5 457.5,829.9 465.0,831.6 472.5,832.9 478.8,834.6 487.5,838.0 495.0,838.8 501.2,839.7 508.8,837.5 517.5,832.7 530.0,824.8 538.8,821.4 545.5,818.0 560.0,818.0 567.5,823.1 575.0,825.3 582.5,826.5 596.2,818.9 605.0,815.8 620.0,807.0 633.8,796.4 642.5,798.1 651.2,799.9 663.8,799.8 671.2,800.3 677.5,799.1 685.0,792.7 700.0,774.4 708.8,767.7 715.0,761.7 720.0,760.9 730.0,760.6 736.2,758.9 745.0,758.7 751.2,759.7 758.8,763.6 766.2,764.3 773.8,765.3 781.2,769.0 788.8,773.7 796.2,782.5 802.5,788.5 810.0,792.7 817.5,796.4 825.0,798.6 832.5,798.4 840.0,798.1 847.5,795.2 855.0,791.0 861.2,785.1 868.8,777.5 876.2,771.5 883.8,763.6 891.2,760.2 898.8,760.2 905.5,760.7 913.8,758.5 920.8,756.2 927.5,760.6 935.5,766.0 942.5,768.7 950.0,771.2 957.5,777.5 965.0,783.2 971.2,780.8 980.0,770.7 987.5,763.1 993.8,758.0 1001.2,755.0 1008.8,753.3 1016.2,753.0 1023.8,755.0 1031.2,754.5 1037.5,755.2 1045.0,759.2 1052.5,764.3 1060.0,768.2 1068.2,772.7 1075.0,780.0 1080.0,784.2 1090.0,789.3 1097.5,790.1 1107.5,787.9 1117.5,785.6 1127.5,784.2 1137.5,782.2 1148.8,781.7 1162.5,785.4 1171.2,785.9 1185.0,793.5 1192.5,795.7 1200.0,796.6 1207.5,799.9 1215.0,800.6 1222.5,799.4 1229.5,796.1 1243.8,778.8 1255.0,777.5 1266.2,775.3 1281.2,776.4" fill="none" stroke="#980e13" stroke-width="3.5" stroke-linejoin="round" stroke-linecap="round" clip-path="url(#k0)"/>
<polyline points="2.0,797.7 16.2,802.8 31.2,812.6 46.2,820.6 60.0,828.2 67.5,825.6 75.0,826.8 86.2,832.9 97.5,838.3 111.2,837.1 125.0,840.9 137.5,845.9 150.0,849.8 156.2,850.7 163.8,851.0 175.0,852.7 185.0,854.9 192.5,852.7 206.2,841.4 212.5,841.7 225.0,844.2 236.2,845.1 245.0,848.0 258.8,850.5 265.5,849.3 272.5,845.9 282.5,841.2 295.0,835.3 303.8,838.3 310.0,840.0 317.5,843.4 325.0,845.1 338.8,844.2 353.8,841.4 360.0,843.4 370.0,845.4 376.2,845.4 385.0,842.0 398.0,837.0 413.2,844.7 420.0,840.0 428.8,830.7 436.2,826.1 442.5,824.5 450.0,826.5 457.5,829.9 465.0,831.6 472.5,832.9 478.8,834.6 487.5,838.0 495.0,838.8 501.2,839.7 508.8,837.5 517.5,832.7 530.0,824.8 538.8,821.4 545.5,818.0 560.0,818.0 567.5,823.1 575.0,825.3 582.5,826.5 596.2,818.9 605.0,815.8 620.0,807.0 633.8,796.4 642.5,798.1 651.2,799.9 663.8,799.8 671.2,800.3 677.5,799.1 685.0,792.7 700.0,774.4 708.8,767.7 715.0,761.7 720.0,760.9 730.0,760.6 736.2,758.9 745.0,758.7 751.2,759.7 758.8,763.6 766.2,764.3 773.8,765.3 781.2,769.0 788.8,773.7 796.2,782.5 802.5,788.5 810.0,792.7 817.5,796.4 825.0,798.6 832.5,798.4 840.0,798.1 847.5,795.2 855.0,791.0 861.2,785.1 868.8,777.5 876.2,771.5 883.8,763.6 891.2,760.2 898.8,760.2 905.5,760.7 913.8,758.5 920.8,756.2 927.5,760.6 935.5,766.0 942.5,768.7 950.0,771.2 957.5,777.5 965.0,783.2 971.2,780.8 980.0,770.7 987.5,763.1 993.8,758.0 1001.2,755.0 1008.8,753.3 1016.2,753.0 1023.8,755.0 1031.2,754.5 1037.5,755.2 1045.0,759.2 1052.5,764.3 1060.0,768.2 1068.2,772.7 1075.0,780.0 1080.0,784.2 1090.0,789.3 1097.5,790.1 1107.5,787.9 1117.5,785.6 1127.5,784.2 1137.5,782.2 1148.8,781.7 1162.5,785.4 1171.2,785.9 1185.0,793.5 1192.5,795.7 1200.0,796.6 1207.5,799.9 1215.0,800.6 1222.5,799.4 1229.5,796.1 1243.8,778.8 1255.0,777.5 1266.2,775.3 1281.2,776.4" fill="none" stroke="#2a8a2a" stroke-width="3.5" stroke-linejoin="round" stroke-linecap="round" clip-path="url(#k1)"/>
<polyline points="2.0,797.7 16.2,802.8 31.2,812.6 46.2,820.6 60.0,828.2 67.5,825.6 75.0,826.8 86.2,832.9 97.5,838.3 111.2,837.1 125.0,840.9 137.5,845.9 150.0,849.8 156.2,850.7 163.8,851.0 175.0,852.7 185.0,854.9 192.5,852.7 206.2,841.4 212.5,841.7 225.0,844.2 236.2,845.1 245.0,848.0 258.8,850.5 265.5,849.3 272.5,845.9 282.5,841.2 295.0,835.3 303.8,838.3 310.0,840.0 317.5,843.4 325.0,845.1 338.8,844.2 353.8,841.4 360.0,843.4 370.0,845.4 376.2,845.4 385.0,842.0 398.0,837.0 413.2,844.7 420.0,840.0 428.8,830.7 436.2,826.1 442.5,824.5 450.0,826.5 457.5,829.9 465.0,831.6 472.5,832.9 478.8,834.6 487.5,838.0 495.0,838.8 501.2,839.7 508.8,837.5 517.5,832.7 530.0,824.8 538.8,821.4 545.5,818.0 560.0,818.0 567.5,823.1 575.0,825.3 582.5,826.5 596.2,818.9 605.0,815.8 620.0,807.0 633.8,796.4 642.5,798.1 651.2,799.9 663.8,799.8 671.2,800.3 677.5,799.1 685.0,792.7 700.0,774.4 708.8,767.7 715.0,761.7 720.0,760.9 730.0,760.6 736.2,758.9 745.0,758.7 751.2,759.7 758.8,763.6 766.2,764.3 773.8,765.3 781.2,769.0 788.8,773.7 796.2,782.5 802.5,788.5 810.0,792.7 817.5,796.4 825.0,798.6 832.5,798.4 840.0,798.1 847.5,795.2 855.0,791.0 861.2,785.1 868.8,777.5 876.2,771.5 883.8,763.6 891.2,760.2 898.8,760.2 905.5,760.7 913.8,758.5 920.8,756.2 927.5,760.6 935.5,766.0 942.5,768.7 950.0,771.2 957.5,777.5 965.0,783.2 971.2,780.8 980.0,770.7 987.5,763.1 993.8,758.0 1001.2,755.0 1008.8,753.3 1016.2,753.0 1023.8,755.0 1031.2,754.5 1037.5,755.2 1045.0,759.2 1052.5,764.3 1060.0,768.2 1068.2,772.7 1075.0,780.0 1080.0,784.2 1090.0,789.3 1097.5,790.1 1107.5,787.9 1117.5,785.6 1127.5,784.2 1137.5,782.2 1148.8,781.7 1162.5,785.4 1171.2,785.9 1185.0,793.5 1192.5,795.7 1200.0,796.6 1207.5,799.9 1215.0,800.6 1222.5,799.4 1229.5,796.1 1243.8,778.8 1255.0,777.5 1266.2,775.3 1281.2,776.4" fill="none" stroke="#f5a11f" stroke-width="3.5" stroke-linejoin="round" stroke-linecap="round" clip-path="url(#k2)"/>
<polyline points="2.0,797.7 16.2,802.8 31.2,812.6 46.2,820.6 60.0,828.2 67.5,825.6 75.0,826.8 86.2,832.9 97.5,838.3 111.2,837.1 125.0,840.9 137.5,845.9 150.0,849.8 156.2,850.7 163.8,851.0 175.0,852.7 185.0,854.9 192.5,852.7 206.2,841.4 212.5,841.7 225.0,844.2 236.2,845.1 245.0,848.0 258.8,850.5 265.5,849.3 272.5,845.9 282.5,841.2 295.0,835.3 303.8,838.3 310.0,840.0 317.5,843.4 325.0,845.1 338.8,844.2 353.8,841.4 360.0,843.4 370.0,845.4 376.2,845.4 385.0,842.0 398.0,837.0 413.2,844.7 420.0,840.0 428.8,830.7 436.2,826.1 442.5,824.5 450.0,826.5 457.5,829.9 465.0,831.6 472.5,832.9 478.8,834.6 487.5,838.0 495.0,838.8 501.2,839.7 508.8,837.5 517.5,832.7 530.0,824.8 538.8,821.4 545.5,818.0 560.0,818.0 567.5,823.1 575.0,825.3 582.5,826.5 596.2,818.9 605.0,815.8 620.0,807.0 633.8,796.4 642.5,798.1 651.2,799.9 663.8,799.8 671.2,800.3 677.5,799.1 685.0,792.7 700.0,774.4 708.8,767.7 715.0,761.7 720.0,760.9 730.0,760.6 736.2,758.9 745.0,758.7 751.2,759.7 758.8,763.6 766.2,764.3 773.8,765.3 781.2,769.0 788.8,773.7 796.2,782.5 802.5,788.5 810.0,792.7 817.5,796.4 825.0,798.6 832.5,798.4 840.0,798.1 847.5,795.2 855.0,791.0 861.2,785.1 868.8,777.5 876.2,771.5 883.8,763.6 891.2,760.2 898.8,760.2 905.5,760.7 913.8,758.5 920.8,756.2 927.5,760.6 935.5,766.0 942.5,768.7 950.0,771.2 957.5,777.5 965.0,783.2 971.2,780.8 980.0,770.7 987.5,763.1 993.8,758.0 1001.2,755.0 1008.8,753.3 1016.2,753.0 1023.8,755.0 1031.2,754.5 1037.5,755.2 1045.0,759.2 1052.5,764.3 1060.0,768.2 1068.2,772.7 1075.0,780.0 1080.0,784.2 1090.0,789.3 1097.5,790.1 1107.5,787.9 1117.5,785.6 1127.5,784.2 1137.5,782.2 1148.8,781.7 1162.5,785.4 1171.2,785.9 1185.0,793.5 1192.5,795.7 1200.0,796.6 1207.5,799.9 1215.0,800.6 1222.5,799.4 1229.5,796.1 1243.8,778.8 1255.0,777.5 1266.2,775.3 1281.2,776.4" fill="none" stroke="#980e13" stroke-width="3.5" stroke-linejoin="round" stroke-linecap="round" clip-path="url(#k3)"/>
<polyline points="2.0,797.7 16.2,802.8 31.2,812.6 46.2,820.6 60.0,828.2 67.5,825.6 75.0,826.8 86.2,832.9 97.5,838.3 111.2,837.1 125.0,840.9 137.5,845.9 150.0,849.8 156.2,850.7 163.8,851.0 175.0,852.7 185.0,854.9 192.5,852.7 206.2,841.4 212.5,841.7 225.0,844.2 236.2,845.1 245.0,848.0 258.8,850.5 265.5,849.3 272.5,845.9 282.5,841.2 295.0,835.3 303.8,838.3 310.0,840.0 317.5,843.4 325.0,845.1 338.8,844.2 353.8,841.4 360.0,843.4 370.0,845.4 376.2,845.4 385.0,842.0 398.0,837.0 413.2,844.7 420.0,840.0 428.8,830.7 436.2,826.1 442.5,824.5 450.0,826.5 457.5,829.9 465.0,831.6 472.5,832.9 478.8,834.6 487.5,838.0 495.0,838.8 501.2,839.7 508.8,837.5 517.5,832.7 530.0,824.8 538.8,821.4 545.5,818.0 560.0,818.0 567.5,823.1 575.0,825.3 582.5,826.5 596.2,818.9 605.0,815.8 620.0,807.0 633.8,796.4 642.5,798.1 651.2,799.9 663.8,799.8 671.2,800.3 677.5,799.1 685.0,792.7 700.0,774.4 708.8,767.7 715.0,761.7 720.0,760.9 730.0,760.6 736.2,758.9 745.0,758.7 751.2,759.7 758.8,763.6 766.2,764.3 773.8,765.3 781.2,769.0 788.8,773.7 796.2,782.5 802.5,788.5 810.0,792.7 817.5,796.4 825.0,798.6 832.5,798.4 840.0,798.1 847.5,795.2 855.0,791.0 861.2,785.1 868.8,777.5 876.2,771.5 883.8,763.6 891.2,760.2 898.8,760.2 905.5,760.7 913.8,758.5 920.8,756.2 927.5,760.6 935.5,766.0 942.5,768.7 950.0,771.2 957.5,777.5 965.0,783.2 971.2,780.8 980.0,770.7 987.5,763.1 993.8,758.0 1001.2,755.0 1008.8,753.3 1016.2,753.0 1023.8,755.0 1031.2,754.5 1037.5,755.2 1045.0,759.2 1052.5,764.3 1060.0,768.2 1068.2,772.7 1075.0,780.0 1080.0,784.2 1090.0,789.3 1097.5,790.1 1107.5,787.9 1117.5,785.6 1127.5,784.2 1137.5,782.2 1148.8,781.7 1162.5,785.4 1171.2,785.9 1185.0,793.5 1192.5,795.7 1200.0,796.6 1207.5,799.9 1215.0,800.6 1222.5,799.4 1229.5,796.1 1243.8,778.8 1255.0,777.5 1266.2,775.3 1281.2,776.4" fill="none" stroke="#1f7a1f" stroke-width="3.5" stroke-linejoin="round" stroke-linecap="round" clip-path="url(#k4)"/>
<polyline points="2.0,797.7 16.2,802.8 31.2,812.6 46.2,820.6 60.0,828.2 67.5,825.6 75.0,826.8 86.2,832.9 97.5,838.3 111.2,837.1 125.0,840.9 137.5,845.9 150.0,849.8 156.2,850.7 163.8,851.0 175.0,852.7 185.0,854.9 192.5,852.7 206.2,841.4 212.5,841.7 225.0,844.2 236.2,845.1 245.0,848.0 258.8,850.5 265.5,849.3 272.5,845.9 282.5,841.2 295.0,835.3 303.8,838.3 310.0,840.0 317.5,843.4 325.0,845.1 338.8,844.2 353.8,841.4 360.0,843.4 370.0,845.4 376.2,845.4 385.0,842.0 398.0,837.0 413.2,844.7 420.0,840.0 428.8,830.7 436.2,826.1 442.5,824.5 450.0,826.5 457.5,829.9 465.0,831.6 472.5,832.9 478.8,834.6 487.5,838.0 495.0,838.8 501.2,839.7 508.8,837.5 517.5,832.7 530.0,824.8 538.8,821.4 545.5,818.0 560.0,818.0 567.5,823.1 575.0,825.3 582.5,826.5 596.2,818.9 605.0,815.8 620.0,807.0 633.8,796.4 642.5,798.1 651.2,799.9 663.8,799.8 671.2,800.3 677.5,799.1 685.0,792.7 700.0,774.4 708.8,767.7 715.0,761.7 720.0,760.9 730.0,760.6 736.2,758.9 745.0,758.7 751.2,759.7 758.8,763.6 766.2,764.3 773.8,765.3 781.2,769.0 788.8,773.7 796.2,782.5 802.5,788.5 810.0,792.7 817.5,796.4 825.0,798.6 832.5,798.4 840.0,798.1 847.5,795.2 855.0,791.0 861.2,785.1 868.8,777.5 876.2,771.5 883.8,763.6 891.2,760.2 898.8,760.2 905.5,760.7 913.8,758.5 920.8,756.2 927.5,760.6 935.5,766.0 942.5,768.7 950.0,771.2 957.5,777.5 965.0,783.2 971.2,780.8 980.0,770.7 987.5,763.1 993.8,758.0 1001.2,755.0 1008.8,753.3 1016.2,753.0 1023.8,755.0 1031.2,754.5 1037.5,755.2 1045.0,759.2 1052.5,764.3 1060.0,768.2 1068.2,772.7 1075.0,780.0 1080.0,784.2 1090.0,789.3 1097.5,790.1 1107.5,787.9 1117.5,785.6 1127.5,784.2 1137.5,782.2 1148.8,781.7 1162.5,785.4 1171.2,785.9 1185.0,793.5 1192.5,795.7 1200.0,796.6 1207.5,799.9 1215.0,800.6 1222.5,799.4 1229.5,796.1 1243.8,778.8 1255.0,777.5 1266.2,775.3 1281.2,776.4" fill="none" stroke="#980e13" stroke-width="3.5" stroke-linejoin="round" stroke-linecap="round" clip-path="url(#k5)"/>
<path d="M16.7 701.3L29.7 714.3M29.7 701.3L16.7 714.3" stroke="#f7a52a" stroke-width="1.5" fill="none" opacity="0.45"/>
<path d="M958.0 700.5L971.0 713.5M971.0 700.5L958.0 713.5" stroke="#f7a52a" stroke-width="1.5" fill="none" opacity="1"/>
<path d="M1068.5 700.5L1081.5 713.5M1081.5 700.5L1068.5 713.5" stroke="#f7a52a" stroke-width="1.5" fill="none" opacity="1"/>
<polygon points="615.2,704.5 624.8,704.5 620,711.5" fill="#8b0a0a"/>
<polygon points="973,713.7 988,713.7 980.5,697.5" fill="#0b640b"/>
<polygon points="49.7,562.9 220.6,562.9 220.6,551.5 389.6,575.5 220.6,599.5 220.6,588.1 49.7,588.1" fill="none" stroke="#22b14c" stroke-width="4.4" stroke-linejoin="miter"/>
<polyline points="220.6,551.5 389.6,575.5 220.6,599.5" fill="none" stroke="#22b14c" stroke-width="4.4" stroke-linejoin="round"/>
<polygon points="82.0,762.1 212.0,762.1 212.0,752.5 339.4,771.3 212.0,790.1 212.0,780.5 82.0,780.5" fill="none" stroke="#f5822a" stroke-width="4.2" stroke-linejoin="miter"/>
<polyline points="212.0,752.5 339.4,771.3 212.0,790.1" fill="none" stroke="#f5822a" stroke-width="4.2" stroke-linejoin="round"/>
<path d="M10.7 845H23.1V859.9H16.7V850.3H10.7Z" fill="#131722"/><circle cx="28.1" cy="847.8" r="2.85" fill="#131722"/><path d="M33.8 845H40.6L35.2 859.9H28.1Z" fill="#131722"/>
<circle cx="20.8" cy="36.6" r="5.5" fill="#cfd2d8"/><ellipse cx="21.6" cy="37.4" rx="3.6" ry="2.7" fill="#ee6470"/><rect x="17.4" y="32.2" width="2.2" height="1.3" fill="#6d7078"/><rect x="21.2" y="31.8" width="2.2" height="1.3" fill="#6d7078"/><circle cx="22.3" cy="41.3" r="0.8" fill="#3d7a63"/>
<circle cx="14" cy="43.2" r="6.9" fill="#fff"/><circle cx="14" cy="43.2" r="6" fill="#3a6eb0"/>
<circle cx="10.7" cy="43.5" r="0.6" fill="#7fd0a0"/>
<circle cx="17.3" cy="43.5" r="0.6" fill="#7fd0a0"/>
<circle cx="11.6" cy="45.6" r="0.6" fill="#7fd0a0"/>
<circle cx="16.4" cy="45.6" r="0.6" fill="#7fd0a0"/>
<circle cx="290" cy="40.3" r="8" fill="#d9efeb"/><circle cx="290" cy="40.3" r="4" fill="#089981"/>
<circle cx="82.8" cy="519" r="8.2" fill="#dbeee9"/>
<path d="M80.7 514.6q-1.7 0-1.7 1.6v1.5q0 1.3-1.5 1.4q1.5 .1 1.5 1.4v1.5q0 1.6 1.7 1.6M84.9 514.6q1.7 0 1.7 1.6v1.5q0 1.3 1.5 1.4q-1.5 .1-1.5 1.4v1.5q0 1.6-1.7 1.6" fill="none" stroke="#138a72" stroke-width="1.4"/>
<rect x="1362.6" y="28.2" width="57.8" height="25.5" rx="3.5" fill="#fff" stroke="#e3e3e6" stroke-width="1"/>
<path d="M1410 40.2l3 3 3-3" fill="none" stroke="#222" stroke-width="1.6"/>
<path d="M1434.4 13.8L1441 6.8" stroke="#5a5a5a" stroke-width="3"/>
<polygon points="1399.2,888.0 1395.6,894.2 1388.4,894.2 1384.8,888.0 1388.4,881.8 1395.6,881.8" fill="none" stroke="#2a2e39" stroke-width="1.3"/><circle cx="1392" cy="888" r="2.4" fill="none" stroke="#2a2e39" stroke-width="1.3"/>
<rect x="1359.4" y="439.4" width="60.3" height="31" rx="2" fill="#0e9981"/>
<rect x="1359.4" y="549" width="43.1" height="16" rx="2" fill="#f7525f"/>
<rect x="1359.4" y="768.2" width="43.1" height="16.5" rx="1.5" fill="#b81d22"/>
<rect x="1359.4" y="784.6" width="43.1" height="17.2" rx="1.5" fill="#8b0a0a"/>
<rect x="1359.4" y="801.7" width="43.1" height="17.1" rx="1.5" fill="#0a0a0a"/>
<rect x="1359.4" y="827" width="43.1" height="16.4" rx="1.5" fill="#0d6b0d"/>
<ellipse cx="226.8" cy="705" rx="2.7" ry="3.5" fill="none" stroke="#333" stroke-width="1"/><path d="M223.8 709.6L229.8 700.4" stroke="#333" stroke-width="1"/>
<ellipse cx="241.1" cy="705" rx="2.7" ry="3.5" fill="none" stroke="#333" stroke-width="1"/><path d="M238.1 709.6L244.1 700.4" stroke="#333" stroke-width="1"/>
<ellipse cx="255.3" cy="705" rx="2.7" ry="3.5" fill="none" stroke="#333" stroke-width="1"/><path d="M252.3 709.6L258.3 700.4" stroke="#333" stroke-width="1"/>
<ellipse cx="269.6" cy="705" rx="2.7" ry="3.5" fill="none" stroke="#333" stroke-width="1"/><path d="M266.6 709.6L272.6 700.4" stroke="#333" stroke-width="1"/>
<ellipse cx="283.8" cy="705" rx="2.7" ry="3.5" fill="none" stroke="#333" stroke-width="1"/><path d="M280.8 709.6L286.8 700.4" stroke="#333" stroke-width="1"/>
<ellipse cx="298.1" cy="705" rx="2.7" ry="3.5" fill="none" stroke="#333" stroke-width="1"/><path d="M295.1 709.6L301.1 700.4" stroke="#333" stroke-width="1"/>
<rect x="0" y="0" width="2" height="899" fill="#fff"/>
</svg>
<div class="t" style="left:30.30px;top:31.77px;font-size:15px;line-height:18.00px;color:#383a41;transform:scaleX(0.9878);">Euro</div>
<div class="t" style="left:70.30px;top:31.77px;font-size:15px;line-height:18.00px;color:#383a41;transform:scaleX(1.2236);">/</div>
<div class="t" style="left:80.20px;top:31.77px;font-size:15px;line-height:18.00px;color:#383a41;transform:scaleX(1.0702);">British</div>
<div class="t" style="left:131.50px;top:31.77px;font-size:15px;line-height:18.00px;color:#383a41;transform:scaleX(0.9659);">Pound</div>
<div class="t" style="left:177.60px;top:31.77px;font-size:15px;line-height:18.00px;color:#383a41;transform:scaleX(0.7606);">·</div>
<div class="t" style="left:186.00px;top:31.77px;font-size:15px;line-height:18.00px;color:#383a41;transform:scaleX(0.9022);">1D</div>
<div class="t" style="left:207.60px;top:31.77px;font-size:15px;line-height:18.00px;color:#383a41;transform:scaleX(0.7606);">·</div>
<div class="t" style="left:216.60px;top:31.77px;font-size:15px;line-height:18.00px;color:#383a41;transform:scaleX(0.9261);">OANDA</div>
<div class="t" style="left:315.20px;top:33.44px;font-size:12px;line-height:14.40px;color:#5d6069;transform:scaleX(1.0393);">O</div>
<div class="t" style="left:324.90px;top:33.44px;font-size:12px;line-height:14.40px;color:#26a18b;transform:scaleX(1.0393);">0.83233</div>
<div class="t" style="left:377.30px;top:33.44px;font-size:12px;line-height:14.40px;color:#5d6069;transform:scaleX(1.0315);">H</div>
<div class="t" style="left:386.24px;top:33.44px;font-size:12px;line-height:14.40px;color:#26a18b;transform:scaleX(1.0315);">0.83262</div>
<div class="t" style="left:439.00px;top:33.44px;font-size:12px;line-height:14.40px;color:#5d6069;transform:scaleX(1.0326);">L</div>
<div class="t" style="left:445.89px;top:33.44px;font-size:12px;line-height:14.40px;color:#26a18b;transform:scaleX(1.0326);">0.83224</div>
<div class="t" style="left:498.00px;top:33.44px;font-size:12px;line-height:14.40px;color:#5d6069;transform:scaleX(1.0238);">C</div>
<div class="t" style="left:506.87px;top:33.44px;font-size:12px;line-height:14.40px;color:#26a18b;transform:scaleX(1.0238);">0.83256</div>
<div class="t" style="left:558.60px;top:33.44px;font-size:12px;line-height:14.40px;color:#26a18b;transform:scaleX(1.0217);">+0.00014 (+0.02%)</div>
<div class="t" style="left:1366.70px;top:33.35px;font-size:13px;line-height:15.60px;color:#383a41;transform:scaleX(0.7758);">GBP</div>
<div class="t" style="left:1367.50px;top:470.63px;font-size:12px;line-height:14.40px;color:#383a41;transform:scaleX(0.9703);">0.83000</div>
<div class="t" style="left:1367.50px;top:411.86px;font-size:12px;line-height:14.40px;color:#383a41;transform:scaleX(0.9703);">0.83500</div>
<div class="t" style="left:1367.50px;top:353.09px;font-size:12px;line-height:14.40px;color:#383a41;transform:scaleX(0.9703);">0.84000</div>
<div class="t" style="left:1367.50px;top:294.32px;font-size:12px;line-height:14.40px;color:#383a41;transform:scaleX(0.9703);">0.84500</div>
<div class="t" style="left:1367.50px;top:235.55px;font-size:12px;line-height:14.40px;color:#383a41;transform:scaleX(0.9703);">0.85000</div>
<div class="t" style="left:1367.50px;top:176.78px;font-size:12px;line-height:14.40px;color:#383a41;transform:scaleX(0.9703);">0.85500</div>
<div class="t" style="left:1367.50px;top:118.01px;font-size:12px;line-height:14.40px;color:#383a41;transform:scaleX(0.9703);">0.86000</div>
<div class="t" style="left:1367.50px;top:59.24px;font-size:12px;line-height:14.40px;color:#383a41;transform:scaleX(0.9703);">0.86500</div>
<div class="t" style="left:1367.50px;top:661.14px;font-size:12px;line-height:14.40px;color:#383a41;transform:scaleX(0.9887);">10.00</div>
<div class="t" style="left:1367.50px;top:630.61px;font-size:12px;line-height:14.40px;color:#383a41;transform:scaleX(0.9887);">15.00</div>
<div class="t" style="left:1367.50px;top:600.09px;font-size:12px;line-height:14.40px;color:#383a41;transform:scaleX(0.9887);">20.00</div>
<div class="t" style="left:1367.50px;top:569.56px;font-size:12px;line-height:14.40px;color:#383a41;transform:scaleX(0.9887);">25.00</div>
<div class="t" style="left:1367.50px;top:508.51px;font-size:12px;line-height:14.40px;color:#383a41;transform:scaleX(0.9887);">35.00</div>
<div class="t" style="left:1367.50px;top:844.64px;font-size:12px;line-height:14.40px;color:#383a41;transform:scaleX(0.9887);">10.00</div>
<div class="t" style="left:1367.50px;top:721.54px;font-size:12px;line-height:14.40px;color:#383a41;transform:scaleX(0.9887);">40.00</div>
<div class="t" style="left:8.00px;top:512.44px;font-size:12px;line-height:14.40px;color:#53555c;transform:scaleX(0.9957);">ADX 14 14</div>
<div class="t" style="left:100.50px;top:512.44px;font-size:12px;line-height:14.40px;color:#e4606a;transform:scaleX(1.0420);">28.29</div>
<div class="t" style="left:8.00px;top:698.14px;font-size:12px;line-height:14.40px;color:#53555c;transform:scaleX(1.0096);">ADX 14 14 20 35</div>
<div class="t" style="left:110.00px;top:698.14px;font-size:12px;line-height:14.40px;color:#b8353a;transform:scaleX(1.0153);">28.29</div>
<div class="t" style="left:148.80px;top:698.14px;font-size:12px;line-height:14.40px;color:#2e8b32;transform:scaleX(0.9987);">14.08</div>
<div class="t" style="left:186.00px;top:698.14px;font-size:12px;line-height:14.40px;color:#8e1f24;transform:scaleX(1.0054);">24.19</div>
<div class="t" style="left:-1.03px;top:880.94px;font-size:12px;line-height:14.40px;color:#383a41;transform:scaleX(0.9700);">Feb</div>
<div class="t" style="left:153.78px;top:880.94px;font-size:12px;line-height:14.40px;color:#383a41;transform:scaleX(0.9700);">Mar</div>
<div class="t" style="left:308.94px;top:880.94px;font-size:12px;line-height:14.40px;color:#383a41;transform:scaleX(0.9700);">Apr</div>
<div class="t" style="left:392.32px;top:880.94px;font-size:12px;line-height:14.40px;color:#383a41;transform:scaleX(0.9700);">16</div>
<div class="t" style="left:468.70px;top:880.94px;font-size:12px;line-height:14.40px;color:#383a41;transform:scaleX(0.9700);">May</div>
<div class="t" style="left:554.12px;top:880.94px;font-size:12px;line-height:14.40px;color:#383a41;transform:scaleX(0.9700);">16</div>
<div class="t" style="left:639.51px;top:880.94px;font-size:12px;line-height:14.40px;color:#383a41;transform:scaleX(0.9700);">Jun</div>
<div class="t" style="left:788.56px;top:880.94px;font-size:12px;line-height:14.40px;color:#383a41;transform:scaleX(0.9700);">Jul</div>
<div class="t" style="left:870.42px;top:880.94px;font-size:12px;line-height:14.40px;color:#383a41;transform:scaleX(0.9700);">16</div>
<div class="t" style="left:954.84px;top:880.94px;font-size:12px;line-height:14.40px;color:#383a41;transform:scaleX(0.9700);">Aug</div>
<div class="t" style="left:1039.52px;top:880.94px;font-size:12px;line-height:14.40px;color:#383a41;transform:scaleX(0.9700);">16</div>
<div class="t" style="left:1116.64px;top:880.94px;font-size:12px;line-height:14.40px;color:#383a41;transform:scaleX(0.9700);">Sep</div>
<div class="t" style="left:1272.34px;top:880.94px;font-size:12px;line-height:14.40px;color:#383a41;transform:scaleX(0.9700);">Oct</div>
<div class="t" style="left:1367.80px;top:441.14px;font-size:12px;line-height:14.40px;color:#fff;transform:scaleX(0.9610);font-weight:bold;">0.83256</div>
<div class="t" style="left:1367.80px;top:455.14px;font-size:12px;line-height:14.40px;color:rgba(255,255,255,.72);transform:scaleX(0.9616);font-weight:bold;">22:46:19</div>
<div class="t" style="left:1367.50px;top:550.14px;font-size:12px;line-height:14.40px;color:#fff;transform:scaleX(0.9887);font-weight:bold;">28.29</div>
<div class="t" style="left:1367.50px;top:769.54px;font-size:12px;line-height:14.40px;color:#fff;transform:scaleX(0.9887);font-weight:bold;">28.29</div>
<div class="t" style="left:1367.50px;top:786.34px;font-size:12px;line-height:14.40px;color:#fff;transform:scaleX(0.9887);font-weight:bold;">24.19</div>
<div class="t" style="left:1367.50px;top:803.34px;font-size:12px;line-height:14.40px;color:#fff;transform:scaleX(0.9887);font-weight:bold;">20.41</div>
<div class="t" style="left:1367.50px;top:828.34px;font-size:12px;line-height:14.40px;color:#fff;transform:scaleX(0.9887);font-weight:bold;">14.08</div>
<div style="position:absolute;left:0;top:0;width:2px;height:899px;background:#fff"></div>
</div></body></html>
